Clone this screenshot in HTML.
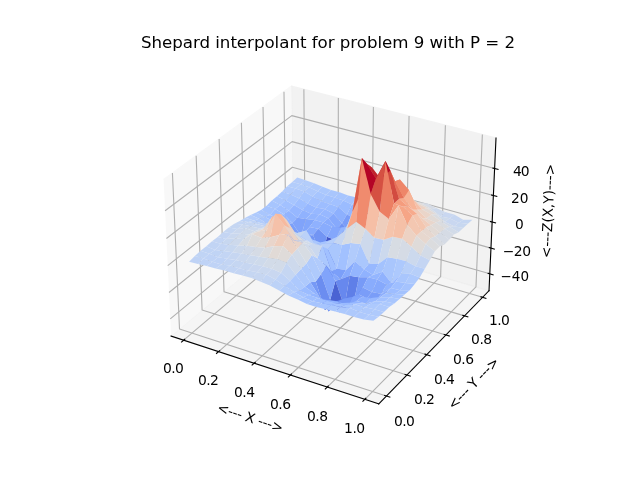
<!DOCTYPE html>
<html lang="en">
<head>
<meta charset="utf-8">
<title>Shepard interpolant for problem 9 with P = 2</title>
<style>
html,body{margin:0;padding:0;background:#ffffff;}
body{width:640px;height:480px;overflow:hidden;}
svg{display:block;}
</style>
</head>
<body>
<svg width="640" height="480" viewBox="0 0 460.8 345.6">
 <defs>
  <style type="text/css">*{stroke-linejoin: round; stroke-linecap: butt}</style>
 </defs>
 <g id="figure_1">
  <g id="patch_1">
   <path d="M 0 345.6 L 460.8 345.6 L 460.8 0 L 0 0 z" style="fill: #ffffff"/>
  </g>
  <g id="patch_2">
   <path d="M 103.104 307.584 L 369.216 307.584 L 369.216 41.472 L 103.104 41.472 z" style="fill: #ffffff"/>
  </g>
  <g id="pane3d_1">
   <g id="patch_3">
    <path d="M 123.197291 241.969309 L 211.076164 168.307495 L 209.854564 62.073991 L 117.770234 129.272941" style="fill: #f2f2f2; opacity: 0.5; stroke: #f2f2f2; stroke-linejoin: miter"/>
   </g>
  </g>
  <g id="pane3d_2">
   <g id="patch_4">
    <path d="M 211.076164 168.307495 L 352.090401 209.294766 L 357.122702 99.402171 L 209.854564 62.073991" style="fill: #e6e6e6; opacity: 0.5; stroke: #e6e6e6; stroke-linejoin: miter"/>
   </g>
  </g>
  <g id="pane3d_3">
   <g id="patch_5">
    <path d="M 123.197291 241.969309 L 272.679269 290.790123 L 352.090401 209.294766 L 211.076164 168.307495" style="fill: #ececec; opacity: 0.5; stroke: #ececec; stroke-linejoin: miter"/>
   </g>
  </g>
  <g id="grid3d_1">
   <g id="Line3DCollection_1">
    <path d="M 132.250704 244.926154 L 219.652219 170.800215 L 218.79322 64.33968" style="fill: none; stroke: #b0b0b0; stroke-width: 0.8"/>
    <path d="M 157.390529 253.13682 L 243.442418 177.715087 L 243.601294 70.627803" style="fill: none; stroke: #b0b0b0; stroke-width: 0.8"/>
    <path d="M 182.990962 261.497922 L 267.632176 184.746095 L 268.844138 77.026128" style="fill: none; stroke: #b0b0b0; stroke-width: 0.8"/>
    <path d="M 209.06478 270.013631 L 292.231644 191.896189 L 294.53328 83.537577" style="fill: none; stroke: #b0b0b0; stroke-width: 0.8"/>
    <path d="M 235.625236 278.688276 L 317.25132 199.168421 L 320.680664 90.165177" style="fill: none; stroke: #b0b0b0; stroke-width: 0.8"/>
    <path d="M 262.686081 287.526347 L 342.702063 206.565947 L 347.298659 96.912062" style="fill: none; stroke: #b0b0b0; stroke-width: 0.8"/>
   </g>
  </g>
  <g id="grid3d_2">
   <g id="Line3DCollection_2">
    <path d="M 124.138093 124.625967 L 129.252888 236.893387 L 278.173905 285.151275" style="fill: none; stroke: #b0b0b0; stroke-width: 0.8"/>
    <path d="M 141.225233 112.156551 L 145.517822 223.259797 L 292.915566 270.022704" style="fill: none; stroke: #b0b0b0; stroke-width: 0.8"/>
    <path d="M 157.777465 100.077486 L 161.295438 210.034687 L 307.192521 255.371036" style="fill: none; stroke: #b0b0b0; stroke-width: 0.8"/>
    <path d="M 173.819521 88.370724 L 176.607314 197.199969 L 321.026403 241.17407" style="fill: none; stroke: #b0b0b0; stroke-width: 0.8"/>
    <path d="M 189.374629 77.019315 L 191.473771 184.73861 L 334.437521 227.410963" style="fill: none; stroke: #b0b0b0; stroke-width: 0.8"/>
    <path d="M 204.46463 66.007319 L 205.913967 172.634551 L 347.444965 214.062126" style="fill: none; stroke: #b0b0b0; stroke-width: 0.8"/>
   </g>
  </g>
  <g id="grid3d_3">
   <g id="Line3DCollection_3">
    <path d="M 352.645918 197.163689 L 210.941058 156.558304 L 122.599095 229.547371" style="fill: none; stroke: #b0b0b0; stroke-width: 0.8"/>
    <path d="M 353.494522 178.632332 L 210.734792 138.620891 L 121.684864 210.562772" style="fill: none; stroke: #b0b0b0; stroke-width: 0.8"/>
    <path d="M 354.355982 159.82026 L 210.525552 120.424824 L 120.756252 191.279552" style="fill: none; stroke: #b0b0b0; stroke-width: 0.8"/>
    <path d="M 355.23059 140.721047 L 210.313273 101.964469 L 119.812918 171.690609" style="fill: none; stroke: #b0b0b0; stroke-width: 0.8"/>
    <path d="M 356.118651 121.328067 L 210.097887 83.234026 L 118.854508 151.788613" style="fill: none; stroke: #b0b0b0; stroke-width: 0.8"/>
   </g>
  </g>
  <g id="axis3d_1">
   <g id="line2d_1">
    <path d="M 123.197291 241.969309 L 272.679269 290.790123" style="fill: none; stroke: #000000; stroke-width: 0.8; stroke-linecap: square"/>
   </g>
   <g id="xtick_1">
    <g id="line2d_2">
     <path d="M 133.011792 244.280669 L 130.725263 246.219892" style="fill: none; stroke: #000000; stroke-width: 0.8; stroke-linecap: square"/>
    </g>
    <g id="text_1">
     <text style="font-size: 10px; font-family: 'DejaVu Sans', 'Liberation Sans', sans-serif; text-anchor: middle" x="124.9017" y="268.2353" textLength="14.9625" lengthAdjust="spacing">0.0</text>
    </g>
   </g>
   <g id="xtick_2">
    <g id="line2d_3">
     <path d="M 158.140416 252.479568 L 155.887507 254.454171" style="fill: none; stroke: #000000; stroke-width: 0.8; stroke-linecap: square"/>
    </g>
    <g id="text_2">
     <text style="font-size: 10px; font-family: 'DejaVu Sans', 'Liberation Sans', sans-serif; text-anchor: middle" x="150.0672" y="276.9799" textLength="14.9625" lengthAdjust="spacing">0.2</text>
    </g>
   </g>
   <g id="xtick_3">
    <g id="line2d_4">
     <path d="M 183.72911 260.828577 L 181.511441 262.839538" style="fill: none; stroke: #000000; stroke-width: 0.8; stroke-linecap: square"/>
    </g>
    <g id="text_3">
     <text style="font-size: 10px; font-family: 'DejaVu Sans', 'Liberation Sans', sans-serif; text-anchor: middle" x="176.0555" y="285.5187" textLength="15.1200" lengthAdjust="spacing">0.4</text>
    </g>
   </g>
   <g id="xtick_4">
    <g id="line2d_5">
     <path d="M 209.790625 269.331856 L 207.609891 271.380188" style="fill: none; stroke: #000000; stroke-width: 0.8; stroke-linecap: square"/>
    </g>
    <g id="text_4">
     <text style="font-size: 10px; font-family: 'DejaVu Sans', 'Liberation Sans', sans-serif; text-anchor: middle" x="201.9796" y="294.2161" textLength="15.0480" lengthAdjust="spacing">0.6</text>
    </g>
   </g>
   <g id="xtick_5">
    <g id="line2d_6">
     <path d="M 236.338187 277.993721 L 234.196161 280.080476" style="fill: none; stroke: #000000; stroke-width: 0.8; stroke-linecap: square"/>
    </g>
    <g id="text_5">
     <text style="font-size: 10px; font-family: 'DejaVu Sans', 'Liberation Sans', sans-serif; text-anchor: middle" x="228.5727" y="302.8963" textLength="15.2064" lengthAdjust="spacing">0.8</text>
    </g>
   </g>
   <g id="xtick_6">
    <g id="line2d_7">
     <path d="M 263.385522 286.818651 L 261.284057 288.94492" style="fill: none; stroke: #000000; stroke-width: 0.8; stroke-linecap: square"/>
    </g>
    <g id="text_6">
     <text style="font-size: 10px; font-family: 'DejaVu Sans', 'Liberation Sans', sans-serif; text-anchor: middle" x="255.3088" y="311.5642" textLength="15.2064" lengthAdjust="spacing">1.0</text>
    </g>
   </g>
   <g id="text_7">
    <text style="font-size: 10px; font-family: 'DejaVu Sans', 'Liberation Sans', sans-serif; text-anchor: middle" x="179.1797" y="303.9912" transform="rotate(-341.912962 179.1797 303.9912)" textLength="49.4118" lengthAdjust="spacing">&lt;--- X ---&gt;</text>
   </g>
  </g>
  <g id="axis3d_2">
   <g id="line2d_8">
    <path d="M 352.090401 209.294766 L 272.679269 290.790123" style="fill: none; stroke: #000000; stroke-width: 0.8; stroke-linecap: square"/>
   </g>
   <g id="xtick_7">
    <g id="line2d_9">
     <path d="M 276.918943 284.744604 L 280.687074 285.965668" style="fill: none; stroke: #000000; stroke-width: 0.8; stroke-linecap: square"/>
    </g>
    <g id="text_8">
     <text style="font-size: 10px; font-family: 'DejaVu Sans', 'Liberation Sans', sans-serif; text-anchor: middle" x="291.2345" y="306.5330" textLength="14.9625" lengthAdjust="spacing">0.0</text>
    </g>
   </g>
   <g id="xtick_8">
    <g id="line2d_10">
     <path d="M 291.674448 269.628951 L 295.400959 270.811211" style="fill: none; stroke: #000000; stroke-width: 0.8; stroke-linecap: square"/>
    </g>
    <g id="text_9">
     <text style="font-size: 10px; font-family: 'DejaVu Sans', 'Liberation Sans', sans-serif; text-anchor: middle" x="305.5985" y="290.6404" textLength="14.9625" lengthAdjust="spacing">0.2</text>
    </g>
   </g>
   <g id="xtick_9">
    <g id="line2d_11">
     <path d="M 305.965005 254.989595 L 309.650627 256.134872" style="fill: none; stroke: #000000; stroke-width: 0.8; stroke-linecap: square"/>
    </g>
    <g id="text_10">
     <text style="font-size: 10px; font-family: 'DejaVu Sans', 'Liberation Sans', sans-serif; text-anchor: middle" x="320.0437" y="276.1321" textLength="14.9625" lengthAdjust="spacing">0.4</text>
    </g>
   </g>
   <g id="xtick_10">
    <g id="line2d_12">
     <path d="M 319.812248 240.804373 L 323.457705 241.914376" style="fill: none; stroke: #000000; stroke-width: 0.8; stroke-linecap: square"/>
    </g>
    <g id="text_11">
     <text style="font-size: 10px; font-family: 'DejaVu Sans', 'Liberation Sans', sans-serif; text-anchor: middle" x="333.6915" y="261.7255" textLength="15.2064" lengthAdjust="spacing">0.6</text>
    </g>
   </g>
   <g id="xtick_11">
    <g id="line2d_13">
     <path d="M 333.236491 227.052475 L 336.842497 228.128809" style="fill: none; stroke: #000000; stroke-width: 0.8; stroke-linecap: square"/>
    </g>
    <g id="text_12">
     <text style="font-size: 10px; font-family: 'DejaVu Sans', 'Liberation Sans', sans-serif; text-anchor: middle" x="346.7421" y="247.3993" textLength="15.2064" lengthAdjust="spacing">0.8</text>
    </g>
   </g>
   <g id="xtick_12">
    <g id="line2d_14">
     <path d="M 346.256825 213.714346 L 349.824086 214.758519" style="fill: none; stroke: #000000; stroke-width: 0.8; stroke-linecap: square"/>
    </g>
    <g id="text_13">
     <text style="font-size: 10px; font-family: 'DejaVu Sans', 'Liberation Sans', sans-serif; text-anchor: middle" x="359.5741" y="233.6738" textLength="14.8896" lengthAdjust="spacing">1.0</text>
    </g>
   </g>
   <g id="text_14">
    <text style="font-size: 10px; font-family: 'DejaVu Sans', 'Liberation Sans', sans-serif; text-anchor: middle" x="343.2891" y="278.3351" transform="rotate(-45.742112 343.2891 278.3351)" textLength="48.1248" lengthAdjust="spacing">&lt;--- Y ---&gt;</text>
   </g>
  </g>
  <g id="axis3d_3">
   <g id="line2d_15">
    <path d="M 352.090401 209.294766 L 357.122702 99.402171" style="fill: none; stroke: #000000; stroke-width: 0.8; stroke-linecap: square"/>
   </g>
   <g id="xtick_13">
    <g id="line2d_16">
     <path d="M 351.456349 196.822819 L 355.027899 197.846243" style="fill: none; stroke: #000000; stroke-width: 0.8; stroke-linecap: square"/>
    </g>
    <g id="text_15">
     <text style="font-size: 10px; font-family: 'DejaVu Sans', 'Liberation Sans', sans-serif; text-anchor: middle" x="370.6229" y="202.0008" textLength="20.5506" lengthAdjust="spacingAndGlyphs">−40</text>
    </g>
   </g>
   <g id="xtick_14">
    <g id="line2d_17">
     <path d="M 352.295675 178.296329 L 355.895105 179.305146" style="fill: none; stroke: #000000; stroke-width: 0.8; stroke-linecap: square"/>
    </g>
    <g id="text_16">
     <text style="font-size: 10px; font-family: 'DejaVu Sans', 'Liberation Sans', sans-serif; text-anchor: middle" x="372.1463" y="184.0464" textLength="20.3409" lengthAdjust="spacing">−20</text>
    </g>
   </g>
   <g id="xtick_15">
    <g id="line2d_18">
     <path d="M 353.14771 159.489312 L 356.775458 160.482959" style="fill: none; stroke: #000000; stroke-width: 0.8; stroke-linecap: square"/>
    </g>
    <g id="text_17">
     <text style="font-size: 10px; font-family: 'DejaVu Sans', 'Liberation Sans', sans-serif; text-anchor: middle" x="373.8646" y="164.5526" textLength="6.3000" lengthAdjust="spacingAndGlyphs">0</text>
    </g>
   </g>
   <g id="xtick_16">
    <g id="line2d_19">
     <path d="M 354.012744 140.395347 L 357.66926 141.373243" style="fill: none; stroke: #000000; stroke-width: 0.8; stroke-linecap: square"/>
    </g>
    <g id="text_18">
     <text style="font-size: 10px; font-family: 'DejaVu Sans', 'Liberation Sans', sans-serif; text-anchor: middle" x="374.1581" y="145.8532" textLength="12.6000" lengthAdjust="spacingAndGlyphs">20</text>
    </g>
   </g>
   <g id="xtick_17">
    <g id="line2d_20">
     <path d="M 354.891079 121.007817 L 358.57682 121.969357" style="fill: none; stroke: #000000; stroke-width: 0.8; stroke-linecap: square"/>
    </g>
    <g id="text_19">
     <text style="font-size: 10px; font-family: 'DejaVu Sans', 'Liberation Sans', sans-serif; text-anchor: middle" x="375.3671" y="126.5016" textLength="11.8440" lengthAdjust="spacing">40</text>
    </g>
   </g>
   <g id="text_20">
    <text style="font-size: 10px; font-family: 'DejaVu Sans', 'Liberation Sans', sans-serif; text-anchor: middle" x="398.0437" y="152.0691" transform="rotate(-87.378092 398.0437 152.0691)" textLength="67.8051" lengthAdjust="spacingAndGlyphs">&lt;---Z(X,Y)---&gt;</text>
   </g>
  </g>
  <g id="axes_1">
   <g id="Poly3DCollection_1">
    <path d="M 210.422164 131.02218 L 216.477934 132.576945 L 220.085019 129.853213 L 214.039164 127.827519 z" clip-path="url(#pa10d4ef8ef)" style="fill: #b5cdfa"/>
    <path d="M 216.477934 132.576945 L 222.564249 134.7438 L 226.155016 131.919124 L 220.085019 129.853213 z" clip-path="url(#pa10d4ef8ef)" style="fill: #b3cdfb"/>
    <path d="M 206.777173 134.074081 L 212.847422 135.676423 L 216.477934 132.576945 L 210.422164 131.02218 z" clip-path="url(#pa10d4ef8ef)" style="fill: #b3cdfb"/>
    <path d="M 222.564249 134.7438 L 228.67783 137.734752 L 232.250384 134.469233 L 226.155016 131.919124 z" clip-path="url(#pa10d4ef8ef)" style="fill: #afcafc"/>
    <path d="M 228.67783 137.734752 L 234.810691 140.435652 L 238.367378 136.720504 L 232.250384 134.469233 z" clip-path="url(#pa10d4ef8ef)" style="fill: #abc8fd"/>
    <path d="M 212.847422 135.676423 L 218.948865 137.865078 L 222.564249 134.7438 L 216.477934 132.576945 z" clip-path="url(#pa10d4ef8ef)" style="fill: #b3cdfb"/>
    <path d="M 203.115981 137.865244 L 209.205274 140.022037 L 212.847422 135.676423 L 206.777173 134.074081 z" clip-path="url(#pa10d4ef8ef)" style="fill: #b1cbfc"/>
    <path d="M 218.948865 137.865078 L 225.082049 141.427795 L 228.67783 137.734752 L 222.564249 134.7438 z" clip-path="url(#pa10d4ef8ef)" style="fill: #aec9fc"/>
    <path d="M 234.810691 140.435652 L 240.965449 142.172831 L 244.508735 138.47592 L 238.367378 136.720504 z" clip-path="url(#pa10d4ef8ef)" style="fill: #a9c6fd"/>
    <path d="M 225.082049 141.427795 L 231.231541 144.710858 L 234.810691 140.435652 L 228.67783 137.734752 z" clip-path="url(#pa10d4ef8ef)" style="fill: #a7c5fe"/>
    <path d="M 209.205274 140.022037 L 215.32433 142.785458 L 218.948865 137.865078 L 212.847422 135.676423 z" clip-path="url(#pa10d4ef8ef)" style="fill: #aec9fc"/>
    <path d="M 240.965449 142.172831 L 247.14532 144.330266 L 250.674052 140.714917 L 244.508735 138.47592 z" clip-path="url(#pa10d4ef8ef)" style="fill: #a7c5fe"/>
    <path d="M 199.424699 141.346344 L 205.536436 144.128778 L 209.205274 140.022037 L 203.115981 137.865244 z" clip-path="url(#pa10d4ef8ef)" style="fill: #abc8fd"/>
    <path d="M 215.32433 142.785458 L 221.471301 146.481549 L 225.082049 141.427795 L 218.948865 137.865078 z" clip-path="url(#pa10d4ef8ef)" style="fill: #a7c5fe"/>
    <path d="M 231.231541 144.710858 L 237.398746 146.864551 L 240.965449 142.172831 L 234.810691 140.435652 z" clip-path="url(#pa10d4ef8ef)" style="fill: #a3c2fe"/>
    <path d="M 247.14532 144.330266 L 253.345717 147.222468 L 256.867805 142.285093 L 250.674052 140.714917 z" clip-path="url(#pa10d4ef8ef)" style="fill: #a5c3fe"/>
    <path d="M 205.536436 144.128778 L 211.676288 147.544232 L 215.32433 142.785458 L 209.205274 140.022037 z" clip-path="url(#pa10d4ef8ef)" style="fill: #a7c5fe"/>
    <path d="M 221.471301 146.481549 L 227.631335 149.411244 L 231.231541 144.710858 L 225.082049 141.427795 z" clip-path="url(#pa10d4ef8ef)" style="fill: #a1c0ff"/>
    <path d="M 237.398746 146.864551 L 243.59037 149.067482 L 247.14532 144.330266 L 240.965449 142.172831 z" clip-path="url(#pa10d4ef8ef)" style="fill: #a2c1ff"/>
    <path d="M 211.676288 147.544232 L 217.836692 151.235969 L 221.471301 146.481549 L 215.32433 142.785458 z" clip-path="url(#pa10d4ef8ef)" style="fill: #9fbfff"/>
    <path d="M 253.345717 147.222468 L 259.579341 148.571532 L 263.08612 144.16255 L 256.867805 142.285093 z" clip-path="url(#pa10d4ef8ef)" style="fill: #a5c3fe"/>
    <path d="M 195.700219 144.440759 L 201.833952 147.629142 L 205.536436 144.128778 L 199.424699 141.346344 z" clip-path="url(#pa10d4ef8ef)" style="fill: #a9c6fd"/>
    <path d="M 227.631335 149.411244 L 233.807445 150.401014 L 237.398746 146.864551 L 231.231541 144.710858 z" clip-path="url(#pa10d4ef8ef)" style="fill: #9dbdff"/>
    <path d="M 243.59037 149.067482 L 249.793552 154.493828 L 253.345717 147.222468 L 247.14532 144.330266 z" clip-path="url(#pa10d4ef8ef)" style="fill: #9bbcff"/>
    <path d="M 217.836692 151.235969 L 224.007167 153.833321 L 227.631335 149.411244 L 221.471301 146.481549 z" clip-path="url(#pa10d4ef8ef)" style="fill: #97b8ff"/>
    <path d="M 201.833952 147.629142 L 207.998815 151.755451 L 211.676288 147.544232 L 205.536436 144.128778 z" clip-path="url(#pa10d4ef8ef)" style="fill: #a2c1ff"/>
    <path d="M 249.793552 154.493828 L 256.021728 157.397008 L 259.579341 148.571532 L 253.345717 147.222468 z" clip-path="url(#pa10d4ef8ef)" style="fill: #94b6ff"/>
    <path d="M 233.807445 150.401014 L 240.013756 153.656701 L 243.59037 149.067482 L 237.398746 146.864551 z" clip-path="url(#pa10d4ef8ef)" style="fill: #9bbcff"/>
    <path d="M 259.579341 148.571532 L 265.863508 147.840269 L 269.356889 143.798643 L 263.08612 144.16255 z" clip-path="url(#pa10d4ef8ef)" style="fill: #aac7fd"/>
    <path d="M 207.998815 151.755451 L 214.188516 156.860732 L 217.836692 151.235969 L 211.676288 147.544232 z" clip-path="url(#pa10d4ef8ef)" style="fill: #96b7ff"/>
    <path d="M 240.013756 153.656701 L 246.229398 160.816573 L 249.793552 154.493828 L 243.59037 149.067482 z" clip-path="url(#pa10d4ef8ef)" style="fill: #8db0fe"/>
    <path d="M 224.007167 153.833321 L 230.192009 154.302335 L 233.807445 150.401014 L 227.631335 149.411244 z" clip-path="url(#pa10d4ef8ef)" style="fill: #97b8ff"/>
    <path d="M 191.958442 148.097785 L 198.094606 150.516487 L 201.833952 147.629142 L 195.700219 144.440759 z" clip-path="url(#pa10d4ef8ef)" style="fill: #a7c5fe"/>
    <path d="M 246.229398 160.816573 L 252.445208 167.960554 L 256.021728 157.397008 L 249.793552 154.493828 z" clip-path="url(#pa10d4ef8ef)" style="fill: #7a9df8"/>
    <path d="M 214.188516 156.860732 L 220.354658 157.612908 L 224.007167 153.833321 L 217.836692 151.235969 z" clip-path="url(#pa10d4ef8ef)" style="fill: #90b2fe"/>
    <path d="M 256.021728 157.397008 L 262.332876 153.449847 L 265.863508 147.840269 L 259.579341 148.571532 z" clip-path="url(#pa10d4ef8ef)" style="fill: #9dbdff"/>
    <path d="M 198.094606 150.516487 L 204.272039 154.212072 L 207.998815 151.755451 L 201.833952 147.629142 z" clip-path="url(#pa10d4ef8ef)" style="fill: #a1c0ff"/>
    <path d="M 230.192009 154.302335 L 236.413342 157.216211 L 240.013756 153.656701 L 233.807445 150.401014 z" clip-path="url(#pa10d4ef8ef)" style="fill: #97b8ff"/>
    <path d="M 265.863508 147.840269 L 272.202499 145.931443 L 275.665544 143.411512 L 269.356889 143.798643 z" clip-path="url(#pa10d4ef8ef)" style="fill: #b6cefa"/>
    <path d="M 204.272039 154.212072 L 210.497866 160.580082 L 214.188516 156.860732 L 207.998815 151.755451 z" clip-path="url(#pa10d4ef8ef)" style="fill: #92b4fe"/>
    <path d="M 236.413342 157.216211 L 242.650554 164.828776 L 246.229398 160.816573 L 240.013756 153.656701 z" clip-path="url(#pa10d4ef8ef)" style="fill: #86a9fc"/>
    <path d="M 242.650554 164.828776 L 248.899401 168.70738 L 252.445208 167.960554 L 246.229398 160.816573 z" clip-path="url(#pa10d4ef8ef)" style="fill: #6f92f3"/>
    <path d="M 220.354658 157.612908 L 226.552739 158.395402 L 230.192009 154.302335 L 224.007167 153.833321 z" clip-path="url(#pa10d4ef8ef)" style="fill: #93b5fe"/>
    <path d="M 210.497866 160.580082 L 216.755031 169.89913 L 220.354658 157.612908 L 214.188516 156.860732 z" clip-path="url(#pa10d4ef8ef)" style="fill: #80a3fa"/>
    <path d="M 252.445208 167.960554 L 258.784581 158.869549 L 262.332876 153.449847 L 256.021728 157.397008 z" clip-path="url(#pa10d4ef8ef)" style="fill: #86a9fc"/>
    <path d="M 188.174396 150.996412 L 194.352111 154.829187 L 198.094606 150.516487 L 191.958442 148.097785 z" clip-path="url(#pa10d4ef8ef)" style="fill: #a6c4fe"/>
    <path d="M 194.352111 154.829187 L 200.518123 156.861458 L 204.272039 154.212072 L 198.094606 150.516487 z" clip-path="url(#pa10d4ef8ef)" style="fill: #a1c0ff"/>
    <path d="M 272.202499 145.931443 L 278.595384 143.506096 L 282.020402 142.534881 L 275.665544 143.411512 z" clip-path="url(#pa10d4ef8ef)" style="fill: #c4d5f3"/>
    <path d="M 262.332876 153.449847 L 268.703179 149.231602 L 272.202499 145.931443 L 265.863508 147.840269 z" clip-path="url(#pa10d4ef8ef)" style="fill: #b2ccfb"/>
    <path d="M 226.552739 158.395402 L 232.785688 160.242282 L 236.413342 157.216211 L 230.192009 154.302335 z" clip-path="url(#pa10d4ef8ef)" style="fill: #94b6ff"/>
    <path d="M 216.755031 169.89913 L 222.895747 163.515597 L 226.552739 158.395402 L 220.354658 157.612908 z" clip-path="url(#pa10d4ef8ef)" style="fill: #82a6fb"/>
    <path d="M 200.518123 156.861458 L 206.752327 162.128278 L 210.497866 160.580082 L 204.272039 154.212072 z" clip-path="url(#pa10d4ef8ef)" style="fill: #94b6ff"/>
    <path d="M 248.899401 168.70738 L 255.241126 160.286995 L 258.784581 158.869549 L 252.445208 167.960554 z" clip-path="url(#pa10d4ef8ef)" style="fill: #80a3fa"/>
    <path d="M 206.752327 162.128278 L 213.001641 167.898604 L 216.755031 169.89913 L 210.497866 160.580082 z" clip-path="url(#pa10d4ef8ef)" style="fill: #7b9ff9"/>
    <path d="M 232.785688 160.242282 L 239.045836 163.304281 L 242.650554 164.828776 L 236.413342 157.216211 z" clip-path="url(#pa10d4ef8ef)" style="fill: #89acfd"/>
    <path d="M 184.339761 152.936957 L 190.52503 156.109088 L 194.352111 154.829187 L 188.174396 150.996412 z" clip-path="url(#pa10d4ef8ef)" style="fill: #a9c6fd"/>
    <path d="M 239.045836 163.304281 L 245.332264 163.989046 L 248.899401 168.70738 L 242.650554 164.828776 z" clip-path="url(#pa10d4ef8ef)" style="fill: #80a3fa"/>
    <path d="M 258.784581 158.869549 L 265.18024 152.343077 L 268.703179 149.231602 L 262.332876 153.449847 z" clip-path="url(#pa10d4ef8ef)" style="fill: #adc9fd"/>
    <path d="M 213.001641 167.898604 L 219.21017 167.832249 L 222.895747 163.515597 L 216.755031 169.89913 z" clip-path="url(#pa10d4ef8ef)" style="fill: #7a9df8"/>
    <path d="M 222.895747 163.515597 L 229.136456 164.709796 L 232.785688 160.242282 L 226.552739 158.395402 z" clip-path="url(#pa10d4ef8ef)" style="fill: #8fb1fe"/>
    <path d="M 278.595384 143.506096 L 285.037031 141.091318 L 288.422159 141.342232 L 282.020402 142.534881 z" clip-path="url(#pa10d4ef8ef)" style="fill: #d2dbe8"/>
    <path d="M 190.52503 156.109088 L 196.731459 159.352383 L 200.518123 156.861458 L 194.352111 154.829187 z" clip-path="url(#pa10d4ef8ef)" style="fill: #a2c1ff"/>
    <path d="M 268.703179 149.231602 L 275.122536 145.642293 L 278.595384 143.506096 L 272.202499 145.931443 z" clip-path="url(#pa10d4ef8ef)" style="fill: #c7d7f0"/>
    <path d="M 231.795729 185.882575 L 238.084985 209.428966 L 241.704512 172.99128 L 235.415561 170.535724 z" clip-path="url(#pa10d4ef8ef)" style="fill: #4358cb"/>
    <path d="M 229.136456 164.709796 L 235.415561 170.535724 L 239.045836 163.304281 L 232.785688 160.242282 z" clip-path="url(#pa10d4ef8ef)" style="fill: #89acfd"/>
    <path d="M 196.731459 159.352383 L 202.971649 163.546648 L 206.752327 162.128278 L 200.518123 156.861458 z" clip-path="url(#pa10d4ef8ef)" style="fill: #98b9ff"/>
    <path d="M 202.971649 163.546648 L 209.302047 173.869267 L 213.001641 167.898604 L 206.752327 162.128278 z" clip-path="url(#pa10d4ef8ef)" style="fill: #82a6fb"/>
    <path d="M 245.332264 163.989046 L 251.659499 163.074495 L 255.241126 160.286995 L 248.899401 168.70738 z" clip-path="url(#pa10d4ef8ef)" style="fill: #8fb1fe"/>
    <path d="M 285.037031 141.091318 L 291.448316 142.560897 L 294.806291 142.913249 L 288.422159 141.342232 z" clip-path="url(#pa10d4ef8ef)" style="fill: #d9dce1"/>
    <path d="M 180.471899 154.862172 L 186.665185 157.485252 L 190.52503 156.109088 L 184.339761 152.936957 z" clip-path="url(#pa10d4ef8ef)" style="fill: #afcafc"/>
    <path d="M 209.302047 173.869267 L 215.552117 177.512123 L 219.21017 167.832249 L 213.001641 167.898604 z" clip-path="url(#pa10d4ef8ef)" style="fill: #7396f5"/>
    <path d="M 219.21017 167.832249 L 225.463944 169.277763 L 229.136456 164.709796 L 222.895747 163.515597 z" clip-path="url(#pa10d4ef8ef)" style="fill: #88abfd"/>
    <path d="M 235.415561 170.535724 L 241.704512 172.99128 L 245.332264 163.989046 L 239.045836 163.304281 z" clip-path="url(#pa10d4ef8ef)" style="fill: #84a7fc"/>
    <path d="M 225.463944 169.277763 L 231.795729 185.882575 L 235.415561 170.535724 L 229.136456 164.709796 z" clip-path="url(#pa10d4ef8ef)" style="fill: #7295f4"/>
    <path d="M 255.241126 160.286995 L 261.632898 155.22045 L 265.18024 152.343077 L 258.784581 158.869549 z" clip-path="url(#pa10d4ef8ef)" style="fill: #abc8fd"/>
    <path d="M 265.18024 152.343077 L 271.618954 147.937697 L 275.122536 145.642293 L 268.703179 149.231602 z" clip-path="url(#pa10d4ef8ef)" style="fill: #c9d7f0"/>
    <path d="M 275.122536 145.642293 L 281.576054 143.319657 L 285.037031 141.091318 L 278.595384 143.506096 z" clip-path="url(#pa10d4ef8ef)" style="fill: #d9dce1"/>
    <path d="M 186.665185 157.485252 L 192.90577 161.413103 L 196.731459 159.352383 L 190.52503 156.109088 z" clip-path="url(#pa10d4ef8ef)" style="fill: #a9c6fd"/>
    <path d="M 228.070961 177.154695 L 234.398505 182.22549 L 238.084985 209.428966 L 231.795729 185.882575 z" clip-path="url(#pa10d4ef8ef)" style="fill: #3f53c6"/>
    <path d="M 291.448316 142.560897 L 297.876232 144.600402 L 301.190218 145.679645 L 294.806291 142.913249 z" clip-path="url(#pa10d4ef8ef)" style="fill: #d8dce2"/>
    <path d="M 192.90577 161.413103 L 199.189671 166.984708 L 202.971649 163.546648 L 196.731459 159.352383 z" clip-path="url(#pa10d4ef8ef)" style="fill: #9dbdff"/>
    <path d="M 215.552117 177.512123 L 221.745389 170.78531 L 225.463944 169.277763 L 219.21017 167.832249 z" clip-path="url(#pa10d4ef8ef)" style="fill: #7ea1fa"/>
    <path d="M 238.084985 209.428966 L 244.400286 174.533923 L 248.051481 165.323271 L 241.704512 172.99128 z" clip-path="url(#pa10d4ef8ef)" style="fill: #5d7ce6"/>
    <path d="M 199.189671 166.984708 L 205.429285 168.717809 L 209.302047 173.869267 L 202.971649 163.546648 z" clip-path="url(#pa10d4ef8ef)" style="fill: #8badfd"/>
    <path d="M 241.704512 172.99128 L 248.051481 165.323271 L 251.659499 163.074495 L 245.332264 163.989046 z" clip-path="url(#pa10d4ef8ef)" style="fill: #93b5fe"/>
    <path d="M 251.659499 163.074495 L 258.024424 162.698267 L 261.632898 155.22045 L 255.241126 160.286995 z" clip-path="url(#pa10d4ef8ef)" style="fill: #a9c6fd"/>
    <path d="M 297.876232 144.600402 L 304.320209 147.070082 L 307.655004 146.304632 L 301.190218 145.679645 z" clip-path="url(#pa10d4ef8ef)" style="fill: #d8dce2"/>
    <path d="M 221.745389 170.78531 L 228.070961 177.154695 L 231.795729 185.882575 L 225.463944 169.277763 z" clip-path="url(#pa10d4ef8ef)" style="fill: #7295f4"/>
    <path d="M 176.570197 156.770304 L 182.769175 158.811479 L 186.665185 157.485252 L 180.471899 154.862172 z" clip-path="url(#pa10d4ef8ef)" style="fill: #b6cefa"/>
    <path d="M 281.576054 143.319657 L 288.015596 144.292218 L 291.448316 142.560897 L 285.037031 141.091318 z" clip-path="url(#pa10d4ef8ef)" style="fill: #e1dad6"/>
    <path d="M 205.429285 168.717809 L 211.705383 171.216577 L 215.552117 177.512123 L 209.302047 173.869267 z" clip-path="url(#pa10d4ef8ef)" style="fill: #7da0f9"/>
    <path d="M 261.632898 155.22045 L 268.106942 148.435101 L 271.618954 147.937697 L 265.18024 152.343077 z" clip-path="url(#pa10d4ef8ef)" style="fill: #ccd9ed"/>
    <path d="M 271.618954 147.937697 L 278.095905 144.94135 L 281.576054 143.319657 L 275.122536 145.642293 z" clip-path="url(#pa10d4ef8ef)" style="fill: #dcdddd"/>
    <path d="M 304.320209 147.070082 L 310.756694 150.692825 L 314.071565 149.72203 L 307.655004 146.304632 z" clip-path="url(#pa10d4ef8ef)" style="fill: #d5dbe5"/>
    <path d="M 182.769175 158.811479 L 188.999802 161.13313 L 192.90577 161.413103 L 186.665185 157.485252 z" clip-path="url(#pa10d4ef8ef)" style="fill: #b2ccfb"/>
    <path d="M 234.398505 182.22549 L 240.742446 174.844727 L 244.400286 174.533923 L 238.084985 209.428966 z" clip-path="url(#pa10d4ef8ef)" style="fill: #5673e0"/>
    <path d="M 288.015596 144.292218 L 294.49134 145.099553 L 297.876232 144.600402 L 291.448316 142.560897 z" clip-path="url(#pa10d4ef8ef)" style="fill: #e2dad5"/>
    <path d="M 310.756694 150.692825 L 317.165415 155.83928 L 320.521729 152.720313 L 314.071565 149.72203 z" clip-path="url(#pa10d4ef8ef)" style="fill: #cdd9ec"/>
    <path d="M 211.705383 171.216577 L 217.968756 169.484841 L 221.745389 170.78531 L 215.552117 177.512123 z" clip-path="url(#pa10d4ef8ef)" style="fill: #89acfd"/>
    <path d="M 188.999802 161.13313 L 195.224429 161.72557 L 199.189671 166.984708 L 192.90577 161.413103 z" clip-path="url(#pa10d4ef8ef)" style="fill: #abc8fd"/>
    <path d="M 248.051481 165.323271 L 254.489112 155.214628 L 258.024424 162.698267 L 251.659499 163.074495 z" clip-path="url(#pa10d4ef8ef)" style="fill: #b2ccfb"/>
    <path d="M 172.647678 159.169121 L 178.829888 159.827366 L 182.769175 158.811479 L 176.570197 156.770304 z" clip-path="url(#pa10d4ef8ef)" style="fill: #bcd2f7"/>
    <path d="M 294.49134 145.099553 L 300.980991 146.722402 L 304.320209 147.070082 L 297.876232 144.600402 z" clip-path="url(#pa10d4ef8ef)" style="fill: #e2dad5"/>
    <path d="M 317.165415 155.83928 L 323.714741 157.131727 L 327.036304 154.513942 L 320.521729 152.720313 z" clip-path="url(#pa10d4ef8ef)" style="fill: #c9d7f0"/>
    <path d="M 278.095905 144.94135 L 284.619022 142.327025 L 288.015596 144.292218 L 281.576054 143.319657 z" clip-path="url(#pa10d4ef8ef)" style="fill: #e8d6cc"/>
    <path d="M 195.224429 161.72557 L 201.507249 163.920899 L 205.429285 168.717809 L 199.189671 166.984708 z" clip-path="url(#pa10d4ef8ef)" style="fill: #a7c5fe"/>
    <path d="M 258.024424 162.698267 L 264.619719 142.953976 L 268.106942 148.435101 L 261.632898 155.22045 z" clip-path="url(#pa10d4ef8ef)" style="fill: #d3dbe7"/>
    <path d="M 268.106942 148.435101 L 274.626339 143.593595 L 278.095905 144.94135 L 271.618954 147.937697 z" clip-path="url(#pa10d4ef8ef)" style="fill: #e4d9d2"/>
    <path d="M 217.968756 169.484841 L 224.306506 172.340269 L 228.070961 177.154695 L 221.745389 170.78531 z" clip-path="url(#pa10d4ef8ef)" style="fill: #92b4fe"/>
    <path d="M 300.980991 146.722402 L 307.455559 150.010744 L 310.756694 150.692825 L 304.320209 147.070082 z" clip-path="url(#pa10d4ef8ef)" style="fill: #dfdbd9"/>
    <path d="M 178.829888 159.827366 L 185.06337 161.319253 L 188.999802 161.13313 L 182.769175 158.811479 z" clip-path="url(#pa10d4ef8ef)" style="fill: #bed2f6"/>
    <path d="M 323.714741 157.131727 L 330.224268 160.408233 L 333.505918 158.284056 L 327.036304 154.513942 z" clip-path="url(#pa10d4ef8ef)" style="fill: #c6d6f1"/>
    <path d="M 201.507249 163.920899 L 207.826355 166.928366 L 211.705383 171.216577 L 205.429285 168.717809 z" clip-path="url(#pa10d4ef8ef)" style="fill: #a6c4fe"/>
    <path d="M 244.400286 174.533923 L 250.79794 169.761854 L 254.489112 155.214628 L 248.051481 165.323271 z" clip-path="url(#pa10d4ef8ef)" style="fill: #abc8fd"/>
    <path d="M 224.306506 172.340269 L 230.665271 174.672836 L 234.398505 182.22549 L 228.070961 177.154695 z" clip-path="url(#pa10d4ef8ef)" style="fill: #86a9fc"/>
    <path d="M 307.455559 150.010744 L 313.923782 154.234519 L 317.165415 155.83928 L 310.756694 150.692825 z" clip-path="url(#pa10d4ef8ef)" style="fill: #d7dce3"/>
    <path d="M 284.619022 142.327025 L 291.181133 140.323843 L 294.49134 145.099553 L 288.015596 144.292218 z" clip-path="url(#pa10d4ef8ef)" style="fill: #efcfbf"/>
    <path d="M 168.678111 161.070529 L 174.875354 161.691793 L 178.829888 159.827366 L 172.647678 159.169121 z" clip-path="url(#pa10d4ef8ef)" style="fill: #c3d5f4"/>
    <path d="M 330.224268 160.408233 L 336.853299 161.164345 L 340.146269 158.264492 L 333.505918 158.284056 z" clip-path="url(#pa10d4ef8ef)" style="fill: #c5d6f2"/>
    <path d="M 185.06337 161.319253 L 191.33157 163.096939 L 195.224429 161.72557 L 188.999802 161.13313 z" clip-path="url(#pa10d4ef8ef)" style="fill: #bed2f6"/>
    <path d="M 313.923782 154.234519 L 320.363541 159.856295 L 323.714741 157.131727 L 317.165415 155.83928 z" clip-path="url(#pa10d4ef8ef)" style="fill: #cedaeb"/>
    <path d="M 207.826355 166.928366 L 214.144956 167.742083 L 217.968756 169.484841 L 211.705383 171.216577 z" clip-path="url(#pa10d4ef8ef)" style="fill: #a9c6fd"/>
    <path d="M 240.742446 174.844727 L 247.153042 170.480969 L 250.79794 169.761854 L 244.400286 174.533923 z" clip-path="url(#pa10d4ef8ef)" style="fill: #9dbdff"/>
    <path d="M 291.181133 140.323843 L 297.667335 143.74134 L 300.980991 146.722402 L 294.49134 145.099553 z" clip-path="url(#pa10d4ef8ef)" style="fill: #f1cdba"/>
    <path d="M 230.665271 174.672836 L 237.045737 173.227638 L 240.742446 174.844727 L 234.398505 182.22549 z" clip-path="url(#pa10d4ef8ef)" style="fill: #90b2fe"/>
    <path d="M 274.626339 143.593595 L 281.259271 135.66716 L 284.619022 142.327025 L 278.095905 144.94135 z" clip-path="url(#pa10d4ef8ef)" style="fill: #f3c7b1"/>
    <path d="M 320.363541 159.856295 L 326.903501 162.870594 L 330.224268 160.408233 L 323.714741 157.131727 z" clip-path="url(#pa10d4ef8ef)" style="fill: #c9d7f0"/>
    <path d="M 174.875354 161.691793 L 181.123814 163.068705 L 185.06337 161.319253 L 178.829888 159.827366 z" clip-path="url(#pa10d4ef8ef)" style="fill: #c5d6f2"/>
    <path d="M 191.33157 163.096939 L 197.62002 164.414827 L 201.507249 163.920899 L 195.224429 161.72557 z" clip-path="url(#pa10d4ef8ef)" style="fill: #c0d4f5"/>
    <path d="M 254.489112 155.214628 L 261.05106 140.987755 L 264.619719 142.953976 L 258.024424 162.698267 z" clip-path="url(#pa10d4ef8ef)" style="fill: #e5d8d1"/>
    <path d="M 297.667335 143.74134 L 304.079487 150.861155 L 307.455559 150.010744 L 300.980991 146.722402 z" clip-path="url(#pa10d4ef8ef)" style="fill: #ecd3c5"/>
    <path d="M 264.619719 142.953976 L 271.141539 140.311579 L 274.626339 143.593595 L 268.106942 148.435101 z" clip-path="url(#pa10d4ef8ef)" style="fill: #f2cab5"/>
    <path d="M 214.144956 167.742083 L 220.477112 165.989333 L 224.306506 172.340269 L 217.968756 169.484841 z" clip-path="url(#pa10d4ef8ef)" style="fill: #b1cbfc"/>
    <path d="M 164.699774 163.846278 L 170.920349 164.812455 L 174.875354 161.691793 L 168.678111 161.070529 z" clip-path="url(#pa10d4ef8ef)" style="fill: #c5d6f2"/>
    <path d="M 326.903501 162.870594 L 333.528654 164.236054 L 336.853299 161.164345 L 330.224268 160.408233 z" clip-path="url(#pa10d4ef8ef)" style="fill: #c7d7f0"/>
    <path d="M 304.079487 150.861155 L 310.591347 154.502371 L 313.923782 154.234519 L 307.455559 150.010744 z" clip-path="url(#pa10d4ef8ef)" style="fill: #e3d9d3"/>
    <path d="M 181.123814 163.068705 L 187.407493 164.694105 L 191.33157 163.096939 L 185.06337 161.319253 z" clip-path="url(#pa10d4ef8ef)" style="fill: #c6d6f1"/>
    <path d="M 197.62002 164.414827 L 203.926138 164.83296 L 207.826355 166.928366 L 201.507249 163.920899 z" clip-path="url(#pa10d4ef8ef)" style="fill: #c0d4f5"/>
    <path d="M 310.591347 154.502371 L 317.093659 159.09677 L 320.363541 159.856295 L 313.923782 154.234519 z" clip-path="url(#pa10d4ef8ef)" style="fill: #dadce0"/>
    <path d="M 220.477112 165.989333 L 226.918143 176.256321 L 230.665271 174.672836 L 224.306506 172.340269 z" clip-path="url(#pa10d4ef8ef)" style="fill: #aac7fd"/>
    <path d="M 237.045737 173.227638 L 243.474108 170.199445 L 247.153042 170.480969 L 240.742446 174.844727 z" clip-path="url(#pa10d4ef8ef)" style="fill: #adc9fd"/>
    <path d="M 317.093659 159.09677 L 323.626447 163.229905 L 326.903501 162.870594 L 320.363541 159.856295 z" clip-path="url(#pa10d4ef8ef)" style="fill: #d1dae9"/>
    <path d="M 170.920349 164.812455 L 177.140847 164.49799 L 181.123814 163.068705 L 174.875354 161.691793 z" clip-path="url(#pa10d4ef8ef)" style="fill: #cad8ef"/>
    <path d="M 281.259271 135.66716 L 287.942769 129.258671 L 291.181133 140.323843 L 284.619022 142.327025 z" clip-path="url(#pa10d4ef8ef)" style="fill: #f7ac8e"/>
    <path d="M 250.79794 169.761854 L 257.401545 144.503356 L 261.05106 140.987755 L 254.489112 155.214628 z" clip-path="url(#pa10d4ef8ef)" style="fill: #e8d6cc"/>
    <path d="M 203.926138 164.83296 L 210.284528 166.678738 L 214.144956 167.742083 L 207.826355 166.928366 z" clip-path="url(#pa10d4ef8ef)" style="fill: #c1d4f4"/>
    <path d="M 187.407493 164.694105 L 193.677673 164.013741 L 197.62002 164.414827 L 191.33157 163.096939 z" clip-path="url(#pa10d4ef8ef)" style="fill: #cad8ef"/>
    <path d="M 226.918143 176.256321 L 233.315753 175.415431 L 237.045737 173.227638 L 230.665271 174.672836 z" clip-path="url(#pa10d4ef8ef)" style="fill: #a6c4fe"/>
    <path d="M 160.701498 167.025024 L 166.937742 168.067863 L 170.920349 164.812455 L 164.699774 163.846278 z" clip-path="url(#pa10d4ef8ef)" style="fill: #c5d6f2"/>
    <path d="M 271.141539 140.311579 L 277.759242 134.748166 L 281.259271 135.66716 L 274.626339 143.593595 z" clip-path="url(#pa10d4ef8ef)" style="fill: #f7ad90"/>
    <path d="M 323.626447 163.229905 L 330.184841 167.142202 L 333.528654 164.236054 L 326.903501 162.870594 z" clip-path="url(#pa10d4ef8ef)" style="fill: #ccd9ed"/>
    <path d="M 300.688227 151.014416 L 307.155417 157.372524 L 310.591347 154.502371 L 304.079487 150.861155 z" clip-path="url(#pa10d4ef8ef)" style="fill: #ead5c9"/>
    <path d="M 294.39512 136.87208 L 300.688227 151.014416 L 304.079487 150.861155 L 297.667335 143.74134 z" clip-path="url(#pa10d4ef8ef)" style="fill: #f5c1a9"/>
    <path d="M 177.140847 164.49799 L 183.451097 166.444961 L 187.407493 164.694105 L 181.123814 163.068705 z" clip-path="url(#pa10d4ef8ef)" style="fill: #cdd9ec"/>
    <path d="M 247.153042 170.480969 L 253.698939 152.684232 L 257.401545 144.503356 L 250.79794 169.761854 z" clip-path="url(#pa10d4ef8ef)" style="fill: #dbdcde"/>
    <path d="M 287.942769 129.258671 L 294.39512 136.87208 L 297.667335 143.74134 L 291.181133 140.323843 z" clip-path="url(#pa10d4ef8ef)" style="fill: #f7a688"/>
    <path d="M 210.284528 166.678738 L 216.687228 170.238498 L 220.477112 165.989333 L 214.144956 167.742083 z" clip-path="url(#pa10d4ef8ef)" style="fill: #c5d6f2"/>
    <path d="M 307.155417 157.372524 L 313.731016 160.257375 L 317.093659 159.09677 L 310.591347 154.502371 z" clip-path="url(#pa10d4ef8ef)" style="fill: #e1dad6"/>
    <path d="M 166.937742 168.067863 L 173.185296 168.339732 L 177.140847 164.49799 L 170.920349 164.812455 z" clip-path="url(#pa10d4ef8ef)" style="fill: #cbd8ee"/>
    <path d="M 193.677673 164.013741 L 199.894762 157.423158 L 203.926138 164.83296 L 197.62002 164.414827 z" clip-path="url(#pa10d4ef8ef)" style="fill: #d6dce4"/>
    <path d="M 216.687228 170.238498 L 223.113413 174.334574 L 226.918143 176.256321 L 220.477112 165.989333 z" clip-path="url(#pa10d4ef8ef)" style="fill: #bbd1f8"/>
    <path d="M 233.315753 175.415431 L 239.756108 175.079288 L 243.474108 170.199445 L 237.045737 173.227638 z" clip-path="url(#pa10d4ef8ef)" style="fill: #b6cefa"/>
    <path d="M 261.05106 140.987755 L 267.79208 120.645494 L 271.141539 140.311579 L 264.619719 142.953976 z" clip-path="url(#pa10d4ef8ef)" style="fill: #f49a7b"/>
    <path d="M 313.731016 160.257375 L 320.281635 164.672478 L 323.626447 163.229905 L 317.093659 159.09677 z" clip-path="url(#pa10d4ef8ef)" style="fill: #dadce0"/>
    <path d="M 156.687697 170.694333 L 162.944479 172.001697 L 166.937742 168.067863 L 160.701498 167.025024 z" clip-path="url(#pa10d4ef8ef)" style="fill: #c4d5f3"/>
    <path d="M 183.451097 166.444961 L 189.719485 164.921369 L 193.677673 164.013741 L 187.407493 164.694105 z" clip-path="url(#pa10d4ef8ef)" style="fill: #d3dbe7"/>
    <path d="M 223.113413 174.334574 L 229.547117 176.046948 L 233.315753 175.415431 L 226.918143 176.256321 z" clip-path="url(#pa10d4ef8ef)" style="fill: #b2ccfb"/>
    <path d="M 243.474108 170.199445 L 249.967255 164.577611 L 253.698939 152.684232 L 247.153042 170.480969 z" clip-path="url(#pa10d4ef8ef)" style="fill: #d5dbe5"/>
    <path d="M 320.281635 164.672478 L 326.854946 168.905737 L 330.184841 167.142202 L 323.626447 163.229905 z" clip-path="url(#pa10d4ef8ef)" style="fill: #d2dbe8"/>
    <path d="M 173.185296 168.339732 L 179.475035 168.865139 L 183.451097 166.444961 L 177.140847 164.49799 z" clip-path="url(#pa10d4ef8ef)" style="fill: #cfdaea"/>
    <path d="M 277.759242 134.748166 L 284.42084 130.531424 L 287.942769 129.258671 L 281.259271 135.66716 z" clip-path="url(#pa10d4ef8ef)" style="fill: #ed8366"/>
    <path d="M 297.26478 151.066753 L 303.775749 156.985974 L 307.155417 157.372524 L 300.688227 151.014416 z" clip-path="url(#pa10d4ef8ef)" style="fill: #f0cdbb"/>
    <path d="M 199.894762 157.423158 L 206.283116 158.302375 L 210.284528 166.678738 L 203.926138 164.83296 z" clip-path="url(#pa10d4ef8ef)" style="fill: #dfdbd9"/>
    <path d="M 290.812887 142.637483 L 297.26478 151.066753 L 300.688227 151.014416 L 294.39512 136.87208 z" clip-path="url(#pa10d4ef8ef)" style="fill: #f7b497"/>
    <path d="M 162.944479 172.001697 L 169.181504 171.524712 L 173.185296 168.339732 L 166.937742 168.067863 z" clip-path="url(#pa10d4ef8ef)" style="fill: #cad8ef"/>
    <path d="M 303.775749 156.985974 L 310.317593 162.104948 L 313.731016 160.257375 L 307.155417 157.372524 z" clip-path="url(#pa10d4ef8ef)" style="fill: #e8d6cc"/>
    <path d="M 239.756108 175.079288 L 246.232995 176.266177 L 249.967255 164.577611 L 243.474108 170.199445 z" clip-path="url(#pa10d4ef8ef)" style="fill: #c6d6f1"/>
    <path d="M 229.547117 176.046948 L 236.013285 179.491962 L 239.756108 175.079288 L 233.315753 175.415431 z" clip-path="url(#pa10d4ef8ef)" style="fill: #b6cefa"/>
    <path d="M 152.620711 173.722379 L 158.908171 175.528569 L 162.944479 172.001697 L 156.687697 170.694333 z" clip-path="url(#pa10d4ef8ef)" style="fill: #c3d5f4"/>
    <path d="M 206.283116 158.302375 L 212.804375 168.352364 L 216.687228 170.238498 L 210.284528 166.678738 z" clip-path="url(#pa10d4ef8ef)" style="fill: #d8dce2"/>
    <path d="M 284.42084 130.531424 L 290.812887 142.637483 L 294.39512 136.87208 L 287.942769 129.258671 z" clip-path="url(#pa10d4ef8ef)" style="fill: #ee8669"/>
    <path d="M 310.317593 162.104948 L 316.869255 167.315889 L 320.281635 164.672478 L 313.731016 160.257375 z" clip-path="url(#pa10d4ef8ef)" style="fill: #dfdbd9"/>
    <path d="M 212.804375 168.352364 L 219.272526 173.547128 L 223.113413 174.334574 L 216.687228 170.238498 z" clip-path="url(#pa10d4ef8ef)" style="fill: #c9d7f0"/>
    <path d="M 236.013285 179.491962 L 242.489006 193.336755 L 246.232995 176.266177 L 239.756108 175.079288 z" clip-path="url(#pa10d4ef8ef)" style="fill: #aac7fd"/>
    <path d="M 267.79208 120.645494 L 274.284497 129.137433 L 277.759242 134.748166 L 271.141539 140.311579 z" clip-path="url(#pa10d4ef8ef)" style="fill: #e67259"/>
    <path d="M 179.475035 168.865139 L 185.742447 166.737338 L 189.719485 164.921369 L 183.451097 166.444961 z" clip-path="url(#pa10d4ef8ef)" style="fill: #d8dce2"/>
    <path d="M 189.719485 164.921369 L 195.904685 156.040171 L 199.894762 157.423158 L 193.677673 164.013741 z" clip-path="url(#pa10d4ef8ef)" style="fill: #e8d6cc"/>
    <path d="M 316.869255 167.315889 L 323.427203 172.705215 L 326.854946 168.905737 L 320.281635 164.672478 z" clip-path="url(#pa10d4ef8ef)" style="fill: #d5dbe5"/>
    <path d="M 169.181504 171.524712 L 175.490426 172.280135 L 179.475035 168.865139 L 173.185296 168.339732 z" clip-path="url(#pa10d4ef8ef)" style="fill: #cfdaea"/>
    <path d="M 242.489006 193.336755 L 248.978336 194.588353 L 252.755342 175.046411 L 246.232995 176.266177 z" clip-path="url(#pa10d4ef8ef)" style="fill: #a2c1ff"/>
    <path d="M 219.272526 173.547128 L 225.735741 175.755802 L 229.547117 176.046948 L 223.113413 174.334574 z" clip-path="url(#pa10d4ef8ef)" style="fill: #c4d5f3"/>
    <path d="M 158.908171 175.528569 L 165.190398 176.208817 L 169.181504 171.524712 L 162.944479 172.001697 z" clip-path="url(#pa10d4ef8ef)" style="fill: #c7d7f0"/>
    <path d="M 238.751487 195.684665 L 245.250152 201.079953 L 248.978336 194.588353 L 242.489006 193.336755 z" clip-path="url(#pa10d4ef8ef)" style="fill: #7b9ff9"/>
    <path d="M 257.401545 144.503356 L 264.187403 117.885635 L 267.79208 120.645494 L 261.05106 140.987755 z" clip-path="url(#pa10d4ef8ef)" style="fill: #e26952"/>
    <path d="M 246.232995 176.266177 L 252.755342 175.046411 L 256.523334 159.743084 L 249.967255 164.577611 z" clip-path="url(#pa10d4ef8ef)" style="fill: #d7dce3"/>
    <path d="M 287.309617 143.170122 L 293.859553 148.631796 L 297.26478 151.066753 L 290.812887 142.637483 z" clip-path="url(#pa10d4ef8ef)" style="fill: #f7a98b"/>
    <path d="M 148.539185 177.263835 L 154.871094 179.958699 L 158.908171 175.528569 L 152.620711 173.722379 z" clip-path="url(#pa10d4ef8ef)" style="fill: #c1d4f4"/>
    <path d="M 232.223165 176.851179 L 238.751487 195.684665 L 242.489006 193.336755 L 236.013285 179.491962 z" clip-path="url(#pa10d4ef8ef)" style="fill: #a1c0ff"/>
    <path d="M 293.859553 148.631796 L 300.420707 154.081084 L 303.775749 156.985974 L 297.26478 151.066753 z" clip-path="url(#pa10d4ef8ef)" style="fill: #f6bea4"/>
    <path d="M 274.284497 129.137433 L 281.014792 122.67107 L 284.42084 130.531424 L 277.759242 134.748166 z" clip-path="url(#pa10d4ef8ef)" style="fill: #da5a49"/>
    <path d="M 300.420707 154.081084 L 306.885428 163.532693 L 310.317593 162.104948 L 303.775749 156.985974 z" clip-path="url(#pa10d4ef8ef)" style="fill: #f0cdbb"/>
    <path d="M 225.735741 175.755802 L 232.223165 176.851179 L 236.013285 179.491962 L 229.547117 176.046948 z" clip-path="url(#pa10d4ef8ef)" style="fill: #c3d5f4"/>
    <path d="M 306.885428 163.532693 L 313.423067 170.166029 L 316.869255 167.315889 L 310.317593 162.104948 z" clip-path="url(#pa10d4ef8ef)" style="fill: #e2dad5"/>
    <path d="M 281.014792 122.67107 L 287.309617 143.170122 L 290.812887 142.637483 L 284.42084 130.531424 z" clip-path="url(#pa10d4ef8ef)" style="fill: #e67259"/>
    <path d="M 175.490426 172.280135 L 181.728596 168.525316 L 185.742447 166.737338 L 179.475035 168.865139 z" clip-path="url(#pa10d4ef8ef)" style="fill: #dbdcde"/>
    <path d="M 185.742447 166.737338 L 192.076332 165.528179 L 195.904685 156.040171 L 189.719485 164.921369 z" clip-path="url(#pa10d4ef8ef)" style="fill: #ead5c9"/>
    <path d="M 165.190398 176.208817 L 171.501229 176.674345 L 175.490426 172.280135 L 169.181504 171.524712 z" clip-path="url(#pa10d4ef8ef)" style="fill: #cdd9ec"/>
    <path d="M 313.423067 170.166029 L 319.987454 176.119297 L 323.427203 172.705215 L 316.869255 167.315889 z" clip-path="url(#pa10d4ef8ef)" style="fill: #d5dbe5"/>
    <path d="M 248.978336 194.588353 L 255.549831 188.120584 L 259.308738 175.711944 L 252.755342 175.046411 z" clip-path="url(#pa10d4ef8ef)" style="fill: #b1cbfc"/>
    <path d="M 195.904685 156.040171 L 202.280065 154.296007 L 206.283116 158.302375 L 199.894762 157.423158 z" clip-path="url(#pa10d4ef8ef)" style="fill: #f4c5ad"/>
    <path d="M 154.871094 179.958699 L 161.167168 180.755177 L 165.190398 176.208817 L 158.908171 175.528569 z" clip-path="url(#pa10d4ef8ef)" style="fill: #c3d5f4"/>
    <path d="M 245.250152 201.079953 L 251.798735 198.547916 L 255.549831 188.120584 L 248.978336 194.588353 z" clip-path="url(#pa10d4ef8ef)" style="fill: #88abfd"/>
    <path d="M 252.755342 175.046411 L 259.308738 175.711944 L 263.052023 164.780364 L 256.523334 159.743084 z" clip-path="url(#pa10d4ef8ef)" style="fill: #dedcdb"/>
    <path d="M 208.847833 164.252811 L 215.392733 173.144959 L 219.272526 173.547128 L 212.804375 168.352364 z" clip-path="url(#pa10d4ef8ef)" style="fill: #dcdddd"/>
    <path d="M 249.967255 164.577611 L 256.523334 159.743084 L 260.548243 113.771823 L 253.698939 152.684232 z" clip-path="url(#pa10d4ef8ef)" style="fill: #f7a688"/>
    <path d="M 259.308738 175.711944 L 265.757078 189.818688 L 269.577159 171.207407 L 263.052023 164.780364 z" clip-path="url(#pa10d4ef8ef)" style="fill: #cdd9ec"/>
    <path d="M 202.280065 154.296007 L 208.847833 164.252811 L 212.804375 168.352364 L 206.283116 158.302375 z" clip-path="url(#pa10d4ef8ef)" style="fill: #efcebd"/>
    <path d="M 241.506194 202.068672 L 247.999538 220.884121 L 251.798735 198.547916 L 245.250152 201.079953 z" clip-path="url(#pa10d4ef8ef)" style="fill: #6788ee"/>
    <path d="M 255.549831 188.120584 L 262.085169 193.863537 L 265.757078 189.818688 L 259.308738 175.711944 z" clip-path="url(#pa10d4ef8ef)" style="fill: #aac7fd"/>
    <path d="M 144.418467 180.622162 L 150.743044 182.664618 L 154.871094 179.958699 L 148.539185 177.263835 z" clip-path="url(#pa10d4ef8ef)" style="fill: #c0d4f5"/>
    <path d="M 234.968548 191.307406 L 241.506194 202.068672 L 245.250152 201.079953 L 238.751487 195.684665 z" clip-path="url(#pa10d4ef8ef)" style="fill: #85a8fc"/>
    <path d="M 265.757078 189.818688 L 272.353302 190.044716 L 276.181876 172.592055 L 269.577159 171.207407 z" clip-path="url(#pa10d4ef8ef)" style="fill: #bed2f6"/>
    <path d="M 253.698939 152.684232 L 260.548243 113.771823 L 264.187403 117.885635 L 257.401545 144.503356 z" clip-path="url(#pa10d4ef8ef)" style="fill: #dc5d4a"/>
    <path d="M 215.392733 173.144959 L 221.886207 175.858504 L 225.735741 175.755802 L 219.272526 173.547128 z" clip-path="url(#pa10d4ef8ef)" style="fill: #d2dbe8"/>
    <path d="M 262.085169 193.863537 L 268.649227 197.972431 L 272.353302 190.044716 L 265.757078 189.818688 z" clip-path="url(#pa10d4ef8ef)" style="fill: #97b8ff"/>
    <path d="M 237.735976 215.970334 L 244.262645 224.862184 L 247.999538 220.884121 L 241.506194 202.068672 z" clip-path="url(#pa10d4ef8ef)" style="fill: #4a63d3"/>
    <path d="M 228.438273 185.868133 L 234.968548 191.307406 L 238.751487 195.684665 L 232.223165 176.851179 z" clip-path="url(#pa10d4ef8ef)" style="fill: #abc8fd"/>
    <path d="M 283.722099 146.533508 L 290.357808 148.865926 L 293.859553 148.631796 L 287.309617 143.170122 z" clip-path="url(#pa10d4ef8ef)" style="fill: #f59c7d"/>
    <path d="M 264.187403 117.885635 L 270.696085 128.529186 L 274.284497 129.137433 L 267.79208 120.645494 z" clip-path="url(#pa10d4ef8ef)" style="fill: #be242e"/>
    <path d="M 171.501229 176.674345 L 177.84307 176.943133 L 181.728596 168.525316 L 175.490426 172.280135 z" clip-path="url(#pa10d4ef8ef)" style="fill: #d7dce3"/>
    <path d="M 181.728596 168.525316 L 188.161104 171.374383 L 192.076332 165.528179 L 185.742447 166.737338 z" clip-path="url(#pa10d4ef8ef)" style="fill: #e5d8d1"/>
    <path d="M 161.167168 180.755177 L 167.500104 181.644632 L 171.501229 176.674345 L 165.190398 176.208817 z" clip-path="url(#pa10d4ef8ef)" style="fill: #c7d7f0"/>
    <path d="M 247.999538 220.884121 L 254.560199 218.60672 L 258.37351 199.646118 L 251.798735 198.547916 z" clip-path="url(#pa10d4ef8ef)" style="fill: #5f7fe8"/>
    <path d="M 263.052023 164.780364 L 269.577159 171.207407 L 273.414534 152.511318 L 266.942174 139.654713 z" clip-path="url(#pa10d4ef8ef)" style="fill: #f6bfa6"/>
    <path d="M 221.886207 175.858504 L 228.438273 185.868133 L 232.223165 176.851179 L 225.735741 175.755802 z" clip-path="url(#pa10d4ef8ef)" style="fill: #cad8ef"/>
    <path d="M 244.262645 224.862184 L 250.833323 222.456695 L 254.560199 218.60672 L 247.999538 220.884121 z" clip-path="url(#pa10d4ef8ef)" style="fill: #3b4cc0"/>
    <path d="M 303.380931 166.556578 L 309.990411 171.558496 L 313.423067 170.166029 L 306.885428 163.532693 z" clip-path="url(#pa10d4ef8ef)" style="fill: #e6d7cf"/>
    <path d="M 269.577159 171.207407 L 276.181876 172.592055 L 279.982652 157.656357 L 273.414534 152.511318 z" clip-path="url(#pa10d4ef8ef)" style="fill: #efcebd"/>
    <path d="M 251.798735 198.547916 L 258.37351 199.646118 L 262.085169 193.863537 L 255.549831 188.120584 z" clip-path="url(#pa10d4ef8ef)" style="fill: #93b5fe"/>
    <path d="M 296.931649 155.132075 L 303.380931 166.556578 L 306.885428 163.532693 L 300.420707 154.081084 z" clip-path="url(#pa10d4ef8ef)" style="fill: #f4c6af"/>
    <path d="M 290.357808 148.865926 L 296.931649 155.132075 L 300.420707 154.081084 L 293.859553 148.631796 z" clip-path="url(#pa10d4ef8ef)" style="fill: #f7aa8c"/>
    <path d="M 150.743044 182.664618 L 157.112571 185.220635 L 161.167168 180.755177 L 154.871094 179.958699 z" clip-path="url(#pa10d4ef8ef)" style="fill: #c0d4f5"/>
    <path d="M 309.990411 171.558496 L 316.586007 177.457798 L 319.987454 176.119297 L 313.423067 170.166029 z" clip-path="url(#pa10d4ef8ef)" style="fill: #d8dce2"/>
    <path d="M 192.076332 165.528179 L 198.281498 153.831878 L 202.280065 154.296007 L 195.904685 156.040171 z" clip-path="url(#pa10d4ef8ef)" style="fill: #f7bca1"/>
    <path d="M 256.523334 159.743084 L 263.052023 164.780364 L 266.942174 139.654713 L 260.548243 113.771823 z" clip-path="url(#pa10d4ef8ef)" style="fill: #f08b6e"/>
    <path d="M 272.353302 190.044716 L 279.068857 185.215103 L 282.879928 170.481307 L 276.181876 172.592055 z" clip-path="url(#pa10d4ef8ef)" style="fill: #ccd9ed"/>
    <path d="M 231.16827 197.36971 L 237.735976 215.970334 L 241.506194 202.068672 L 234.968548 191.307406 z" clip-path="url(#pa10d4ef8ef)" style="fill: #81a4fb"/>
    <path d="M 258.37351 199.646118 L 264.994915 199.571631 L 268.649227 197.972431 L 262.085169 193.863537 z" clip-path="url(#pa10d4ef8ef)" style="fill: #90b2fe"/>
    <path d="M 268.649227 197.972431 L 275.326618 195.501429 L 279.068857 185.215103 L 272.353302 190.044716 z" clip-path="url(#pa10d4ef8ef)" style="fill: #a3c2fe"/>
    <path d="M 140.274574 184.232647 L 146.609532 186.168367 L 150.743044 182.664618 L 144.418467 180.622162 z" clip-path="url(#pa10d4ef8ef)" style="fill: #c0d4f5"/>
    <path d="M 277.53304 115.953452 L 283.722099 146.533508 L 287.309617 143.170122 L 281.014792 122.67107 z" clip-path="url(#pa10d4ef8ef)" style="fill: #d24b40"/>
    <path d="M 167.500104 181.644632 L 173.867788 182.56257 L 177.84307 176.943133 L 171.501229 176.674345 z" clip-path="url(#pa10d4ef8ef)" style="fill: #cdd9ec"/>
    <path d="M 270.696085 128.529186 L 277.53304 115.953452 L 281.014792 122.67107 L 274.284497 129.137433 z" clip-path="url(#pa10d4ef8ef)" style="fill: #b50927"/>
    <path d="M 177.84307 176.943133 L 184.237533 177.89994 L 188.161104 171.374383 L 181.728596 168.525316 z" clip-path="url(#pa10d4ef8ef)" style="fill: #dddcdc"/>
    <path d="M 233.952644 223.264851 L 240.501276 217.709261 L 244.262645 224.862184 L 237.735976 215.970334 z" clip-path="url(#pa10d4ef8ef)" style="fill: #455cce"/>
    <path d="M 157.112571 185.220635 L 163.462231 186.305841 L 167.500104 181.644632 L 161.167168 180.755177 z" clip-path="url(#pa10d4ef8ef)" style="fill: #c3d5f4"/>
    <path d="M 273.414534 152.511318 L 279.982652 157.656357 L 283.722099 146.533508 L 277.53304 115.953452 z" clip-path="url(#pa10d4ef8ef)" style="fill: #ec7f63"/>
    <path d="M 279.982652 157.656357 L 286.840845 147.992721 L 290.357808 148.865926 L 283.722099 146.533508 z" clip-path="url(#pa10d4ef8ef)" style="fill: #f59d7e"/>
    <path d="M 204.868305 162.378524 L 211.474288 173.049693 L 215.392733 173.144959 L 208.847833 164.252811 z" clip-path="url(#pa10d4ef8ef)" style="fill: #ebd3c6"/>
    <path d="M 266.942174 139.654713 L 273.414534 152.511318 L 277.53304 115.953452 L 270.696085 128.529186 z" clip-path="url(#pa10d4ef8ef)" style="fill: #d55042"/>
    <path d="M 188.161104 171.374383 L 194.554684 170.747899 L 198.281498 153.831878 L 192.076332 165.528179 z" clip-path="url(#pa10d4ef8ef)" style="fill: #f1cdba"/>
    <path d="M 276.181876 172.592055 L 282.879928 170.481307 L 286.840845 147.992721 L 279.982652 157.656357 z" clip-path="url(#pa10d4ef8ef)" style="fill: #f5c4ac"/>
    <path d="M 224.571949 183.638705 L 231.16827 197.36971 L 234.968548 191.307406 L 228.438273 185.868133 z" clip-path="url(#pa10d4ef8ef)" style="fill: #b1cbfc"/>
    <path d="M 211.474288 173.049693 L 217.98517 174.69309 L 221.886207 175.858504 L 215.392733 173.144959 z" clip-path="url(#pa10d4ef8ef)" style="fill: #dedcdb"/>
    <path d="M 227.341862 202.600991 L 233.952644 223.264851 L 237.735976 215.970334 L 231.16827 197.36971 z" clip-path="url(#pa10d4ef8ef)" style="fill: #6b8df0"/>
    <path d="M 254.560199 218.60672 L 261.255014 207.03799 L 264.994915 199.571631 L 258.37351 199.646118 z" clip-path="url(#pa10d4ef8ef)" style="fill: #779af7"/>
    <path d="M 293.286901 161.892899 L 299.846504 169.672228 L 303.380931 166.556578 L 296.931649 155.132075 z" clip-path="url(#pa10d4ef8ef)" style="fill: #f3c7b1"/>
    <path d="M 299.846504 169.672228 L 306.453064 175.660417 L 309.990411 171.558496 L 303.380931 166.556578 z" clip-path="url(#pa10d4ef8ef)" style="fill: #e7d7ce"/>
    <path d="M 198.281498 153.831878 L 204.868305 162.378524 L 208.847833 164.252811 L 202.280065 154.296007 z" clip-path="url(#pa10d4ef8ef)" style="fill: #f7b99e"/>
    <path d="M 260.548243 113.771823 L 266.942174 139.654713 L 270.696085 128.529186 L 264.187403 117.885635 z" clip-path="url(#pa10d4ef8ef)" style="fill: #b40426"/>
    <path d="M 146.609532 186.168367 L 152.983341 188.396476 L 157.112571 185.220635 L 150.743044 182.664618 z" clip-path="url(#pa10d4ef8ef)" style="fill: #bfd3f6"/>
    <path d="M 217.98517 174.69309 L 224.571949 183.638705 L 228.438273 185.868133 L 221.886207 175.858504 z" clip-path="url(#pa10d4ef8ef)" style="fill: #d1dae9"/>
    <path d="M 264.994915 199.571631 L 271.634304 201.295355 L 275.326618 195.501429 L 268.649227 197.972431 z" clip-path="url(#pa10d4ef8ef)" style="fill: #94b6ff"/>
    <path d="M 306.453064 175.660417 L 313.089601 180.928391 L 316.586007 177.457798 L 309.990411 171.558496 z" clip-path="url(#pa10d4ef8ef)" style="fill: #dbdcde"/>
    <path d="M 286.840845 147.992721 L 293.286901 161.892899 L 296.931649 155.132075 L 290.357808 148.865926 z" clip-path="url(#pa10d4ef8ef)" style="fill: #f6a586"/>
    <path d="M 275.326618 195.501429 L 281.871011 203.964523 L 285.740451 186.347963 L 279.068857 185.215103 z" clip-path="url(#pa10d4ef8ef)" style="fill: #a9c6fd"/>
    <path d="M 173.867788 182.56257 L 180.275796 183.7375 L 184.237533 177.89994 L 177.84307 176.943133 z" clip-path="url(#pa10d4ef8ef)" style="fill: #d1dae9"/>
    <path d="M 184.237533 177.89994 L 190.657963 178.448375 L 194.554684 170.747899 L 188.161104 171.374383 z" clip-path="url(#pa10d4ef8ef)" style="fill: #e0dbd8"/>
    <path d="M 279.068857 185.215103 L 285.740451 186.347963 L 289.559581 171.889158 L 282.879928 170.481307 z" clip-path="url(#pa10d4ef8ef)" style="fill: #d7dce3"/>
    <path d="M 163.462231 186.305841 L 169.842246 187.289107 L 173.867788 182.56257 L 167.500104 181.644632 z" clip-path="url(#pa10d4ef8ef)" style="fill: #c6d6f1"/>
    <path d="M 250.833323 222.456695 L 257.518515 211.679267 L 261.255014 207.03799 L 254.560199 218.60672 z" clip-path="url(#pa10d4ef8ef)" style="fill: #5f7fe8"/>
    <path d="M 136.121301 188.40576 L 142.46231 190.169074 L 146.609532 186.168367 L 140.274574 184.232647 z" clip-path="url(#pa10d4ef8ef)" style="fill: #bfd3f6"/>
    <path d="M 240.501276 217.709261 L 247.112052 215.043772 L 250.833323 222.456695 L 244.262645 224.862184 z" clip-path="url(#pa10d4ef8ef)" style="fill: #4f69d9"/>
    <path d="M 282.879928 170.481307 L 289.559581 171.889158 L 293.286901 161.892899 L 286.840845 147.992721 z" clip-path="url(#pa10d4ef8ef)" style="fill: #f5c0a7"/>
    <path d="M 289.559581 171.889158 L 296.175124 177.590685 L 299.846504 169.672228 L 293.286901 161.892899 z" clip-path="url(#pa10d4ef8ef)" style="fill: #edd2c3"/>
    <path d="M 152.983341 188.396476 L 159.381322 190.526484 L 163.462231 186.305841 L 157.112571 185.220635 z" clip-path="url(#pa10d4ef8ef)" style="fill: #bfd3f6"/>
    <path d="M 271.634304 201.295355 L 278.276599 204.86707 L 281.871011 203.964523 L 275.326618 195.501429 z" clip-path="url(#pa10d4ef8ef)" style="fill: #90b2fe"/>
    <path d="M 296.175124 177.590685 L 302.783267 183.987837 L 306.453064 175.660417 L 299.846504 169.672228 z" clip-path="url(#pa10d4ef8ef)" style="fill: #dfdbd9"/>
    <path d="M 194.554684 170.747899 L 200.977181 169.259426 L 204.868305 162.378524 L 198.281498 153.831878 z" clip-path="url(#pa10d4ef8ef)" style="fill: #f5c1a9"/>
    <path d="M 285.740451 186.347963 L 292.435084 188.041405 L 296.175124 177.590685 L 289.559581 171.889158 z" clip-path="url(#pa10d4ef8ef)" style="fill: #d5dbe5"/>
    <path d="M 281.871011 203.964523 L 288.712084 197.244348 L 292.435084 188.041405 L 285.740451 186.347963 z" clip-path="url(#pa10d4ef8ef)" style="fill: #adc9fd"/>
    <path d="M 220.720473 189.587169 L 227.341862 202.600991 L 231.16827 197.36971 L 224.571949 183.638705 z" clip-path="url(#pa10d4ef8ef)" style="fill: #afcafc"/>
    <path d="M 261.255014 207.03799 L 267.883238 210.31835 L 271.634304 201.295355 L 264.994915 199.571631 z" clip-path="url(#pa10d4ef8ef)" style="fill: #89acfd"/>
    <path d="M 180.275796 183.7375 L 186.714519 184.799017 L 190.657963 178.448375 L 184.237533 177.89994 z" clip-path="url(#pa10d4ef8ef)" style="fill: #d5dbe5"/>
    <path d="M 302.783267 183.987837 L 309.484809 187.302876 L 313.089601 180.928391 L 306.453064 175.660417 z" clip-path="url(#pa10d4ef8ef)" style="fill: #d3dbe7"/>
    <path d="M 169.842246 187.289107 L 176.273651 188.947347 L 180.275796 183.7375 L 173.867788 182.56257 z" clip-path="url(#pa10d4ef8ef)" style="fill: #cad8ef"/>
    <path d="M 142.46231 190.169074 L 148.819573 191.566844 L 152.983341 188.396476 L 146.609532 186.168367 z" clip-path="url(#pa10d4ef8ef)" style="fill: #bfd3f6"/>
    <path d="M 230.084888 213.767368 L 236.694103 224.299906 L 240.501276 217.709261 L 233.952644 223.264851 z" clip-path="url(#pa10d4ef8ef)" style="fill: #5673e0"/>
    <path d="M 190.657963 178.448375 L 197.084807 177.246248 L 200.977181 169.259426 L 194.554684 170.747899 z" clip-path="url(#pa10d4ef8ef)" style="fill: #e9d5cb"/>
    <path d="M 200.977181 169.259426 L 207.455219 168.414999 L 211.474288 173.049693 L 204.868305 162.378524 z" clip-path="url(#pa10d4ef8ef)" style="fill: #f2cab5"/>
    <path d="M 292.435084 188.041405 L 299.11462 191.704756 L 302.783267 183.987837 L 296.175124 177.590685 z" clip-path="url(#pa10d4ef8ef)" style="fill: #ccd9ed"/>
    <path d="M 223.460174 203.250496 L 230.084888 213.767368 L 233.952644 223.264851 L 227.341862 202.600991 z" clip-path="url(#pa10d4ef8ef)" style="fill: #7699f6"/>
    <path d="M 159.381322 190.526484 L 165.764198 191.212768 L 169.842246 187.289107 L 163.462231 186.305841 z" clip-path="url(#pa10d4ef8ef)" style="fill: #c3d5f4"/>
    <path d="M 214.094007 178.844189 L 220.720473 189.587169 L 224.571949 183.638705 L 217.98517 174.69309 z" clip-path="url(#pa10d4ef8ef)" style="fill: #d7dce3"/>
    <path d="M 207.455219 168.414999 L 214.094007 178.844189 L 217.98517 174.69309 L 211.474288 173.049693 z" clip-path="url(#pa10d4ef8ef)" style="fill: #ead4c8"/>
    <path d="M 278.276599 204.86707 L 285.045781 202.745053 L 288.712084 197.244348 L 281.871011 203.964523 z" clip-path="url(#pa10d4ef8ef)" style="fill: #96b7ff"/>
    <path d="M 267.883238 210.31835 L 274.563303 211.608873 L 278.276599 204.86707 L 271.634304 201.295355 z" clip-path="url(#pa10d4ef8ef)" style="fill: #86a9fc"/>
    <path d="M 299.11462 191.704756 L 305.864462 193.552421 L 309.484809 187.302876 L 302.783267 183.987837 z" clip-path="url(#pa10d4ef8ef)" style="fill: #c4d5f3"/>
    <path d="M 257.518515 211.679267 L 264.165132 214.793718 L 267.883238 210.31835 L 261.255014 207.03799 z" clip-path="url(#pa10d4ef8ef)" style="fill: #7a9df8"/>
    <path d="M 148.819573 191.566844 L 155.219709 193.286362 L 159.381322 190.526484 L 152.983341 188.396476 z" clip-path="url(#pa10d4ef8ef)" style="fill: #bfd3f6"/>
    <path d="M 186.714519 184.799017 L 193.184677 185.722005 L 197.084807 177.246248 L 190.657963 178.448375 z" clip-path="url(#pa10d4ef8ef)" style="fill: #dadce0"/>
    <path d="M 176.273651 188.947347 L 182.726253 190.185963 L 186.714519 184.799017 L 180.275796 183.7375 z" clip-path="url(#pa10d4ef8ef)" style="fill: #ccd9ed"/>
    <path d="M 288.712084 197.244348 L 295.484615 197.027858 L 299.11462 191.704756 L 292.435084 188.041405 z" clip-path="url(#pa10d4ef8ef)" style="fill: #b7cff9"/>
    <path d="M 247.112052 215.043772 L 253.769939 213.894154 L 257.518515 211.679267 L 250.833323 222.456695 z" clip-path="url(#pa10d4ef8ef)" style="fill: #6b8df0"/>
    <path d="M 216.827095 193.488323 L 223.460174 203.250496 L 227.341862 202.600991 L 220.720473 189.587169 z" clip-path="url(#pa10d4ef8ef)" style="fill: #adc9fd"/>
    <path d="M 165.764198 191.212768 L 172.217461 193.161376 L 176.273651 188.947347 L 169.842246 187.289107 z" clip-path="url(#pa10d4ef8ef)" style="fill: #c5d6f2"/>
    <path d="M 197.084807 177.246248 L 203.572742 177.083984 L 207.455219 168.414999 L 200.977181 169.259426 z" clip-path="url(#pa10d4ef8ef)" style="fill: #efcebd"/>
    <path d="M 236.694103 224.299906 L 243.313622 216.922479 L 247.112052 215.043772 L 240.501276 217.709261 z" clip-path="url(#pa10d4ef8ef)" style="fill: #6687ed"/>
    <path d="M 210.177096 183.250123 L 216.827095 193.488323 L 220.720473 189.587169 L 214.094007 178.844189 z" clip-path="url(#pa10d4ef8ef)" style="fill: #d2dbe8"/>
    <path d="M 264.165132 214.793718 L 270.86014 216.046696 L 274.563303 211.608873 L 267.883238 210.31835 z" clip-path="url(#pa10d4ef8ef)" style="fill: #7a9df8"/>
    <path d="M 155.219709 193.286362 L 161.642784 194.767197 L 165.764198 191.212768 L 159.381322 190.526484 z" clip-path="url(#pa10d4ef8ef)" style="fill: #c1d4f4"/>
    <path d="M 295.484615 197.027858 L 302.224445 199.806322 L 305.864462 193.552421 L 299.11462 191.704756 z" clip-path="url(#pa10d4ef8ef)" style="fill: #b7cff9"/>
    <path d="M 274.563303 211.608873 L 281.371617 207.383096 L 285.045781 202.745053 L 278.276599 204.86707 z" clip-path="url(#pa10d4ef8ef)" style="fill: #92b4fe"/>
    <path d="M 182.726253 190.185963 L 189.216881 191.652785 L 193.184677 185.722005 L 186.714519 184.799017 z" clip-path="url(#pa10d4ef8ef)" style="fill: #cedaeb"/>
    <path d="M 203.572742 177.083984 L 210.177096 183.250123 L 214.094007 178.844189 L 207.455219 168.414999 z" clip-path="url(#pa10d4ef8ef)" style="fill: #ebd3c6"/>
    <path d="M 285.045781 202.745053 L 291.801351 203.799614 L 295.484615 197.027858 L 288.712084 197.244348 z" clip-path="url(#pa10d4ef8ef)" style="fill: #a9c6fd"/>
    <path d="M 193.184677 185.722005 L 199.6871 186.470989 L 203.572742 177.083984 L 197.084807 177.246248 z" clip-path="url(#pa10d4ef8ef)" style="fill: #e1dad6"/>
    <path d="M 172.217461 193.161376 L 178.689547 194.673796 L 182.726253 190.185963 L 176.273651 188.947347 z" clip-path="url(#pa10d4ef8ef)" style="fill: #c6d6f1"/>
    <path d="M 253.769939 213.894154 L 260.467217 213.764828 L 264.165132 214.793718 L 257.518515 211.679267 z" clip-path="url(#pa10d4ef8ef)" style="fill: #7ea1fa"/>
    <path d="M 219.560096 206.522116 L 226.18383 211.206095 L 230.084888 213.767368 L 223.460174 203.250496 z" clip-path="url(#pa10d4ef8ef)" style="fill: #90b2fe"/>
    <path d="M 226.18383 211.206095 L 232.822809 215.577412 L 236.694103 224.299906 L 230.084888 213.767368 z" clip-path="url(#pa10d4ef8ef)" style="fill: #7699f6"/>
    <path d="M 212.90925 197.882174 L 219.560096 206.522116 L 223.460174 203.250496 L 216.827095 193.488323 z" clip-path="url(#pa10d4ef8ef)" style="fill: #aec9fc"/>
    <path d="M 161.642784 194.767197 L 168.110675 196.688448 L 172.217461 193.161376 L 165.764198 191.212768 z" clip-path="url(#pa10d4ef8ef)" style="fill: #c3d5f4"/>
    <path d="M 243.313622 216.922479 L 249.962831 222.006463 L 253.769939 213.894154 L 247.112052 215.043772 z" clip-path="url(#pa10d4ef8ef)" style="fill: #7699f6"/>
    <path d="M 199.6871 186.470989 L 206.249307 188.951683 L 210.177096 183.250123 L 203.572742 177.083984 z" clip-path="url(#pa10d4ef8ef)" style="fill: #dfdbd9"/>
    <path d="M 189.216881 191.652785 L 195.745216 193.413535 L 199.6871 186.470989 L 193.184677 185.722005 z" clip-path="url(#pa10d4ef8ef)" style="fill: #d2dbe8"/>
    <path d="M 291.801351 203.799614 L 298.601176 204.531071 L 302.224445 199.806322 L 295.484615 197.027858 z" clip-path="url(#pa10d4ef8ef)" style="fill: #adc9fd"/>
    <path d="M 206.249307 188.951683 L 212.90925 197.882174 L 216.827095 193.488323 L 210.177096 183.250123 z" clip-path="url(#pa10d4ef8ef)" style="fill: #cdd9ec"/>
    <path d="M 270.86014 216.046696 L 277.684704 211.203557 L 281.371617 207.383096 L 274.563303 211.608873 z" clip-path="url(#pa10d4ef8ef)" style="fill: #8badfd"/>
    <path d="M 281.371617 207.383096 L 288.130102 209.010728 L 291.801351 203.799614 L 285.045781 202.745053 z" clip-path="url(#pa10d4ef8ef)" style="fill: #9fbfff"/>
    <path d="M 178.689547 194.673796 L 185.190824 196.05107 L 189.216881 191.652785 L 182.726253 190.185963 z" clip-path="url(#pa10d4ef8ef)" style="fill: #c9d7f0"/>
    <path d="M 260.467217 213.764828 L 267.197787 214.488763 L 270.86014 216.046696 L 264.165132 214.793718 z" clip-path="url(#pa10d4ef8ef)" style="fill: #82a6fb"/>
    <path d="M 232.822809 215.577412 L 239.479389 216.549718 L 243.313622 216.922479 L 236.694103 224.299906 z" clip-path="url(#pa10d4ef8ef)" style="fill: #7699f6"/>
    <path d="M 168.110675 196.688448 L 174.604252 198.445948 L 178.689547 194.673796 L 172.217461 193.161376 z" clip-path="url(#pa10d4ef8ef)" style="fill: #c4d5f3"/>
    <path d="M 195.745216 193.413535 L 202.323091 196.381351 L 206.249307 188.951683 L 199.6871 186.470989 z" clip-path="url(#pa10d4ef8ef)" style="fill: #d2dbe8"/>
    <path d="M 249.962831 222.006463 L 256.698347 216.677225 L 260.467217 213.764828 L 253.769939 213.894154 z" clip-path="url(#pa10d4ef8ef)" style="fill: #81a4fb"/>
    <path d="M 185.190824 196.05107 L 191.730026 197.671091 L 195.745216 193.413535 L 189.216881 191.652785 z" clip-path="url(#pa10d4ef8ef)" style="fill: #cad8ef"/>
    <path d="M 202.323091 196.381351 L 208.961796 202.205108 L 212.90925 197.882174 L 206.249307 188.951683 z" clip-path="url(#pa10d4ef8ef)" style="fill: #c5d6f2"/>
    <path d="M 288.130102 209.010728 L 294.959954 208.960634 L 298.601176 204.531071 L 291.801351 203.799614 z" clip-path="url(#pa10d4ef8ef)" style="fill: #a5c3fe"/>
    <path d="M 208.961796 202.205108 L 215.621948 209.190927 L 219.560096 206.522116 L 212.90925 197.882174 z" clip-path="url(#pa10d4ef8ef)" style="fill: #adc9fd"/>
    <path d="M 215.621948 209.190927 L 222.259072 212.41417 L 226.18383 211.206095 L 219.560096 206.522116 z" clip-path="url(#pa10d4ef8ef)" style="fill: #9bbcff"/>
    <path d="M 277.684704 211.203557 L 284.480809 211.72324 L 288.130102 209.010728 L 281.371617 207.383096 z" clip-path="url(#pa10d4ef8ef)" style="fill: #9dbdff"/>
    <path d="M 174.604252 198.445948 L 181.128439 200.180343 L 185.190824 196.05107 L 178.689547 194.673796 z" clip-path="url(#pa10d4ef8ef)" style="fill: #c5d6f2"/>
    <path d="M 239.479389 216.549718 L 246.170921 218.213178 L 249.962831 222.006463 L 243.313622 216.922479 z" clip-path="url(#pa10d4ef8ef)" style="fill: #80a3fa"/>
    <path d="M 267.197787 214.488763 L 273.983542 214.02191 L 277.684704 211.203557 L 270.86014 216.046696 z" clip-path="url(#pa10d4ef8ef)" style="fill: #90b2fe"/>
    <path d="M 191.730026 197.671091 L 198.33554 201.31672 L 202.323091 196.381351 L 195.745216 193.413535 z" clip-path="url(#pa10d4ef8ef)" style="fill: #c9d7f0"/>
    <path d="M 222.259072 212.41417 L 228.915559 214.523326 L 232.822809 215.577412 L 226.18383 211.206095 z" clip-path="url(#pa10d4ef8ef)" style="fill: #94b6ff"/>
    <path d="M 256.698347 216.677225 L 263.435961 218.544939 L 267.197787 214.488763 L 260.467217 213.764828 z" clip-path="url(#pa10d4ef8ef)" style="fill: #8db0fe"/>
    <path d="M 198.33554 201.31672 L 204.97362 205.729947 L 208.961796 202.205108 L 202.323091 196.381351 z" clip-path="url(#pa10d4ef8ef)" style="fill: #bfd3f6"/>
    <path d="M 181.128439 200.180343 L 187.705128 202.903556 L 191.730026 197.671091 L 185.190824 196.05107 z" clip-path="url(#pa10d4ef8ef)" style="fill: #c6d6f1"/>
    <path d="M 284.480809 211.72324 L 291.321787 212.016225 L 294.959954 208.960634 L 288.130102 209.010728 z" clip-path="url(#pa10d4ef8ef)" style="fill: #a3c2fe"/>
    <path d="M 246.170921 218.213178 L 252.906077 217.959224 L 256.698347 216.677225 L 249.962831 222.006463 z" clip-path="url(#pa10d4ef8ef)" style="fill: #88abfd"/>
    <path d="M 204.97362 205.729947 L 211.630895 210.266797 L 215.621948 209.190927 L 208.961796 202.205108 z" clip-path="url(#pa10d4ef8ef)" style="fill: #afcafc"/>
    <path d="M 228.915559 214.523326 L 235.602471 216.522274 L 239.479389 216.549718 L 232.822809 215.577412 z" clip-path="url(#pa10d4ef8ef)" style="fill: #93b5fe"/>
    <path d="M 273.983542 214.02191 L 280.807424 213.997246 L 284.480809 211.72324 L 277.684704 211.203557 z" clip-path="url(#pa10d4ef8ef)" style="fill: #9fbfff"/>
    <path d="M 187.705128 202.903556 L 194.307896 205.598276 L 198.33554 201.31672 L 191.730026 197.671091 z" clip-path="url(#pa10d4ef8ef)" style="fill: #c3d5f4"/>
    <path d="M 211.630895 210.266797 L 218.298622 214.02496 L 222.259072 212.41417 L 215.621948 209.190927 z" clip-path="url(#pa10d4ef8ef)" style="fill: #a5c3fe"/>
    <path d="M 263.435961 218.544939 L 270.249323 216.944841 L 273.983542 214.02191 L 267.197787 214.488763 z" clip-path="url(#pa10d4ef8ef)" style="fill: #97b8ff"/>
    <path d="M 235.602471 216.522274 L 242.321087 218.33422 L 246.170921 218.213178 L 239.479389 216.549718 z" clip-path="url(#pa10d4ef8ef)" style="fill: #94b6ff"/>
    <path d="M 194.307896 205.598276 L 200.952081 209.203746 L 204.97362 205.729947 L 198.33554 201.31672 z" clip-path="url(#pa10d4ef8ef)" style="fill: #bcd2f7"/>
    <path d="M 218.298622 214.02496 L 224.982603 216.884726 L 228.915559 214.523326 L 222.259072 212.41417 z" clip-path="url(#pa10d4ef8ef)" style="fill: #9fbfff"/>
    <path d="M 252.906077 217.959224 L 259.679349 218.458627 L 263.435961 218.544939 L 256.698347 216.677225 z" clip-path="url(#pa10d4ef8ef)" style="fill: #94b6ff"/>
    <path d="M 280.807424 213.997246 L 287.650607 215.208806 L 291.321787 212.016225 L 284.480809 211.72324 z" clip-path="url(#pa10d4ef8ef)" style="fill: #a6c4fe"/>
    <path d="M 200.952081 209.203746 L 207.618948 212.834274 L 211.630895 210.266797 L 204.97362 205.729947 z" clip-path="url(#pa10d4ef8ef)" style="fill: #b3cdfb"/>
    <path d="M 270.249323 216.944841 L 277.088046 217.103904 L 280.807424 213.997246 L 273.983542 214.02191 z" clip-path="url(#pa10d4ef8ef)" style="fill: #a2c1ff"/>
    <path d="M 224.982603 216.884726 L 231.688884 218.377222 L 235.602471 216.522274 L 228.915559 214.523326 z" clip-path="url(#pa10d4ef8ef)" style="fill: #9fbfff"/>
    <path d="M 242.321087 218.33422 L 249.075212 219.447892 L 252.906077 217.959224 L 246.170921 218.213178 z" clip-path="url(#pa10d4ef8ef)" style="fill: #9abbff"/>
    <path d="M 207.618948 212.834274 L 214.29903 215.578996 L 218.298622 214.02496 L 211.630895 210.266797 z" clip-path="url(#pa10d4ef8ef)" style="fill: #adc9fd"/>
    <path d="M 259.679349 218.458627 L 266.493258 218.943453 L 270.249323 216.944841 L 263.435961 218.544939 z" clip-path="url(#pa10d4ef8ef)" style="fill: #9dbdff"/>
    <path d="M 214.29903 215.578996 L 221.011278 218.933711 L 224.982603 216.884726 L 218.298622 214.02496 z" clip-path="url(#pa10d4ef8ef)" style="fill: #a7c5fe"/>
    <path d="M 231.688884 218.377222 L 238.429651 219.637792 L 242.321087 218.33422 L 235.602471 216.522274 z" clip-path="url(#pa10d4ef8ef)" style="fill: #a2c1ff"/>
    <path d="M 277.088046 217.103904 L 283.948417 218.433566 L 287.650607 215.208806 L 280.807424 213.997246 z" clip-path="url(#pa10d4ef8ef)" style="fill: #a9c6fd"/>
    <path d="M 249.075212 219.447892 L 255.875062 219.246088 L 259.679349 218.458627 L 252.906077 217.959224 z" clip-path="url(#pa10d4ef8ef)" style="fill: #a1c0ff"/>
    <path d="M 266.493258 218.943453 L 273.355805 218.869144 L 277.088046 217.103904 L 270.249323 216.944841 z" clip-path="url(#pa10d4ef8ef)" style="fill: #a7c5fe"/>
    <path d="M 221.011278 218.933711 L 227.74197 221.078854 L 231.688884 218.377222 L 224.982603 216.884726 z" clip-path="url(#pa10d4ef8ef)" style="fill: #a6c4fe"/>
    <path d="M 238.429651 219.637792 L 245.206265 221.070465 L 249.075212 219.447892 L 242.321087 218.33422 z" clip-path="url(#pa10d4ef8ef)" style="fill: #a5c3fe"/>
    <path d="M 255.875062 219.246088 L 262.698555 221.29237 L 266.493258 218.943453 L 259.679349 218.458627 z" clip-path="url(#pa10d4ef8ef)" style="fill: #a7c5fe"/>
    <path d="M 227.74197 221.078854 L 234.502616 222.586534 L 238.429651 219.637792 L 231.688884 218.377222 z" clip-path="url(#pa10d4ef8ef)" style="fill: #a7c5fe"/>
    <path d="M 273.355805 218.869144 L 280.225734 221.034165 L 283.948417 218.433566 L 277.088046 217.103904 z" clip-path="url(#pa10d4ef8ef)" style="fill: #adc9fd"/>
    <path d="M 245.206265 221.070465 L 252.021865 221.833385 L 255.875062 219.246088 L 249.075212 219.447892 z" clip-path="url(#pa10d4ef8ef)" style="fill: #aac7fd"/>
    <path d="M 262.698555 221.29237 L 269.562278 222.708435 L 273.355805 218.869144 L 266.493258 218.943453 z" clip-path="url(#pa10d4ef8ef)" style="fill: #adc9fd"/>
    <path d="M 234.502616 222.586534 L 241.298293 224.333289 L 245.206265 221.070465 L 238.429651 219.637792 z" clip-path="url(#pa10d4ef8ef)" style="fill: #aac7fd"/>
    <path d="M 252.021865 221.833385 L 258.860759 224.693481 L 262.698555 221.29237 L 255.875062 219.246088 z" clip-path="url(#pa10d4ef8ef)" style="fill: #adc9fd"/>
    <path d="M 269.562278 222.708435 L 276.455238 224.601729 L 280.225734 221.034165 L 273.355805 218.869144 z" clip-path="url(#pa10d4ef8ef)" style="fill: #afcafc"/>
    <path d="M 241.298293 224.333289 L 248.128437 225.997281 L 252.021865 221.833385 L 245.206265 221.070465 z" clip-path="url(#pa10d4ef8ef)" style="fill: #adc9fd"/>
    <path d="M 258.860759 224.693481 L 265.738355 226.573633 L 269.562278 222.708435 L 262.698555 221.29237 z" clip-path="url(#pa10d4ef8ef)" style="fill: #aec9fc"/>
    <path d="M 248.128437 225.997281 L 254.990176 228.2027 L 258.860759 224.693481 L 252.021865 221.833385 z" clip-path="url(#pa10d4ef8ef)" style="fill: #aec9fc"/>
    <path d="M 265.738355 226.573633 L 272.654982 228.089267 L 276.455238 224.601729 L 269.562278 222.708435 z" clip-path="url(#pa10d4ef8ef)" style="fill: #afcafc"/>
    <path d="M 254.990176 228.2027 L 261.888274 229.956337 L 265.738355 226.573633 L 258.860759 224.693481 z" clip-path="url(#pa10d4ef8ef)" style="fill: #aec9fc"/>
    <path d="M 261.888274 229.956337 L 268.829811 231.016641 L 272.654982 228.089267 L 265.738355 226.573633 z" clip-path="url(#pa10d4ef8ef)" style="fill: #b1cbfc"/>
   </g>
   <g id="text_21">
    <text style="font-size: 12px; font-family: 'DejaVu Sans', 'Liberation Sans', sans-serif; text-anchor: middle" x="236.1600" y="34.2120" textLength="269.3700" lengthAdjust="spacing">Shepard interpolant for problem 9 with P = 2</text>
   </g>
  </g>
 </g>
 <defs>
  <clipPath id="pa10d4ef8ef">
   <rect x="103.104" y="41.472" width="266.112" height="266.112"/>
  </clipPath>
 </defs>
</svg>

</body>
</html>
